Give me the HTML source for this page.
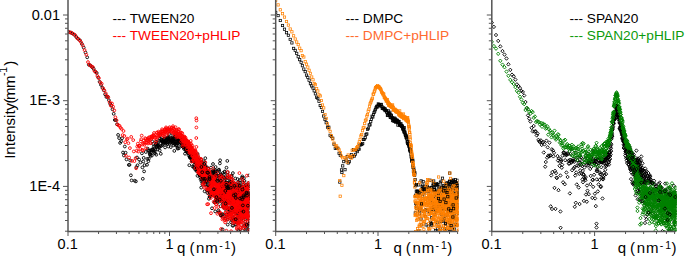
<!DOCTYPE html>
<html><head><meta charset="utf-8"><style>
html,body{margin:0;padding:0;background:#fff;width:685px;height:257px;overflow:hidden}
svg{display:block}
text{font-family:"Liberation Sans",sans-serif}
</style></head><body>
<svg width="685" height="257" viewBox="0 0 685 257">
<defs>
<marker id="cblk" markerUnits="userSpaceOnUse" markerWidth="6" markerHeight="6" refX="3" refY="3" overflow="visible"><circle cx="3" cy="3" r="1.4" fill="none" stroke="#000" stroke-width="0.9"/></marker>
<marker id="cred" markerUnits="userSpaceOnUse" markerWidth="6" markerHeight="6" refX="3" refY="3" overflow="visible"><circle cx="3" cy="3" r="1.4" fill="none" stroke="#f00" stroke-width="0.9"/></marker>
<marker id="corg" markerUnits="userSpaceOnUse" markerWidth="6" markerHeight="6" refX="3" refY="3" overflow="visible"><circle cx="3" cy="3" r="1.4" fill="none" stroke="#ff8000" stroke-width="0.9"/></marker>
<marker id="cgrn" markerUnits="userSpaceOnUse" markerWidth="6" markerHeight="6" refX="3" refY="3" overflow="visible"><circle cx="3" cy="3" r="1.4" fill="none" stroke="#008000" stroke-width="0.9"/></marker>
<marker id="sblk" markerUnits="userSpaceOnUse" markerWidth="6" markerHeight="6" refX="3" refY="3" overflow="visible"><rect x="1.85" y="1.85" width="2.3" height="2.3" fill="none" stroke="#000" stroke-width="0.75"/></marker>
<marker id="sred" markerUnits="userSpaceOnUse" markerWidth="6" markerHeight="6" refX="3" refY="3" overflow="visible"><rect x="1.85" y="1.85" width="2.3" height="2.3" fill="none" stroke="#f00" stroke-width="0.75"/></marker>
<marker id="sorg" markerUnits="userSpaceOnUse" markerWidth="6" markerHeight="6" refX="3" refY="3" overflow="visible"><rect x="1.85" y="1.85" width="2.3" height="2.3" fill="none" stroke="#ff8000" stroke-width="0.75"/></marker>
<marker id="sgrn" markerUnits="userSpaceOnUse" markerWidth="6" markerHeight="6" refX="3" refY="3" overflow="visible"><rect x="1.85" y="1.85" width="2.3" height="2.3" fill="none" stroke="#008000" stroke-width="0.75"/></marker>
<marker id="dblk" markerUnits="userSpaceOnUse" markerWidth="6" markerHeight="6" refX="3" refY="3" overflow="visible"><path d="M3 1.22L4.65 3L3 4.78L1.35 3Z" fill="none" stroke="#000" stroke-width="0.9"/></marker>
<marker id="dred" markerUnits="userSpaceOnUse" markerWidth="6" markerHeight="6" refX="3" refY="3" overflow="visible"><path d="M3 1.22L4.65 3L3 4.78L1.35 3Z" fill="none" stroke="#f00" stroke-width="0.9"/></marker>
<marker id="dorg" markerUnits="userSpaceOnUse" markerWidth="6" markerHeight="6" refX="3" refY="3" overflow="visible"><path d="M3 1.22L4.65 3L3 4.78L1.35 3Z" fill="none" stroke="#ff8000" stroke-width="0.9"/></marker>
<marker id="dgrn" markerUnits="userSpaceOnUse" markerWidth="6" markerHeight="6" refX="3" refY="3" overflow="visible"><path d="M3 1.22L4.65 3L3 4.78L1.35 3Z" fill="none" stroke="#008000" stroke-width="0.9"/></marker>
<clipPath id="cp0"><rect x="68.0" y="0" width="181.3" height="231.5"/></clipPath>
<clipPath id="cp1"><rect x="275.7" y="0" width="182.8" height="231.5"/></clipPath>
<clipPath id="cp2"><rect x="491.8" y="0" width="184.7" height="231.5"/></clipPath>
</defs>
<rect width="685" height="257" fill="#fff"/>
<polyline clip-path="url(#cp0)" fill="none" stroke="none" marker-start="url(#cblk)" marker-mid="url(#cblk)" marker-end="url(#cblk)" points="68.0,31.6 70.2,32.5 72.2,33.3 74.3,34.7 76.3,37.0 78.2,38.8 80.1,40.5 81.9,43.9 83.7,47.6 85.5,52.5 87.2,57.3 88.8,64.7 90.5,65.5 92.1,67.1 93.6,68.7 95.2,71.5 96.7,73.0 98.2,77.5 99.6,81.8 101.0,84.9 102.4,87.8 103.8,90.3 105.1,94.3 106.4,97.0 107.7,96.7 108.9,100.2 110.2,103.8 111.4,105.5 112.5,109.3 113.7,113.8 114.8,120.0 115.9,120.1 117.0,124.3 118.1,134.9 119.1,138.1 120.1,142.9 121.1,141.3 122.1,138.2 123.0,152.5 123.9,155.5 124.8,146.5 125.6,152.7 126.5,159.4 128.8,164.9 129.5,164.9 130.2,160.5 130.9,175.3 131.6,180.4 134.7,180.7 135.9,181.4 136.4,167.2 137.0,157.5 137.5,165.3 139.1,159.5 140.5,162.4 141.9,153.3 142.4,167.4 142.8,178.8 143.3,161.5 143.7,157.9 144.1,171.4 144.6,165.2 145.8,152.0 147.0,164.8 147.3,158.9 147.7,148.6 148.1,150.1 148.4,161.2 148.8,158.7 149.2,150.9 149.5,153.0 149.9,154.6 150.2,154.2 150.6,155.9 150.9,152.5 151.2,150.6 151.6,149.7 151.9,155.6 152.2,141.5 152.5,149.4 152.9,149.9 153.2,144.0 153.5,150.7 153.8,146.5 154.1,152.7 154.4,148.0 154.7,151.2 155.1,153.4 155.4,149.4 155.7,144.2 156.0,141.6 156.3,154.7 156.6,146.3 156.9,144.0 157.1,146.9 157.4,145.4 157.7,149.4 158.0,145.7 158.3,145.4 158.6,142.6 158.9,146.8 159.1,141.0 159.4,147.2 159.7,150.4 160.0,138.7 160.2,135.3 160.5,146.2 160.8,153.8 161.1,140.1 161.3,139.2 161.6,145.7 161.8,140.4 162.1,141.4 162.4,141.9 162.6,145.0 162.9,141.5 163.1,143.8 163.4,142.1 163.6,139.7 163.9,141.4 164.1,139.2 164.4,142.3 164.6,138.5 164.9,138.5 165.1,147.4 165.4,141.7 165.6,141.6 165.9,143.6 166.1,140.2 166.3,140.7 166.6,142.9 166.8,142.3 167.0,137.5 167.3,144.1 167.5,139.2 167.7,137.6 168.0,138.0 168.2,139.5 168.4,146.5 168.6,136.9 168.9,141.0 169.1,133.9 169.3,140.3 169.5,143.4 169.7,139.4 170.0,138.1 170.2,140.8 170.4,142.5 170.6,142.4 170.8,147.1 171.0,140.9 171.3,138.5 171.5,139.9 171.7,140.1 171.9,140.8 172.1,140.3 172.3,141.1 172.5,135.5 172.7,143.4 172.9,138.9 173.1,137.1 173.3,142.9 173.5,145.3 173.7,142.5 173.9,141.3 174.1,138.0 174.3,150.9 174.5,144.0 174.7,137.5 174.9,138.6 175.1,141.3 175.3,136.4 175.5,141.7 175.7,139.8 175.9,145.5 176.1,144.6 176.3,133.1 176.4,141.4 176.6,136.5 176.8,145.2 177.0,142.0 177.2,143.4 177.4,138.3 177.6,147.9 177.7,148.6 177.9,138.4 178.1,142.9 178.3,139.6 178.5,141.6 178.6,137.9 178.8,148.3 179.0,138.9 179.2,140.9 179.4,143.6 179.5,140.0 179.7,141.2 179.9,140.3 180.1,141.7 180.2,138.7 180.4,141.1 180.6,142.0 180.7,141.8 180.9,143.2 181.1,142.3 181.3,146.0 181.4,142.6 181.6,143.3 181.8,141.9 181.9,142.5 182.1,140.4 182.3,146.2 182.4,141.2 182.6,142.5 182.7,146.2 182.9,146.5 183.1,144.1 183.2,139.4 183.4,147.1 183.6,146.7 183.7,141.7 183.9,148.8 184.0,144.2 184.2,143.1 184.4,147.0 184.5,146.3 184.7,147.7 184.8,142.3 185.0,153.7 185.1,145.7 185.3,143.0 185.4,150.0 185.6,146.9 185.7,149.3 185.9,147.3 186.0,148.3 186.2,149.5 186.4,146.6 186.5,151.3 186.6,147.7 186.8,146.7 186.9,149.7 187.1,151.2 187.2,149.2 187.4,147.5 187.5,152.6 187.7,145.1 187.8,147.6 188.0,151.2 188.1,147.0 188.3,151.6 188.4,151.5 188.6,155.3 188.7,149.2 188.8,150.3 189.0,153.9 189.1,144.8 189.3,165.2 189.4,150.9 189.5,151.0 189.7,157.1 189.8,153.8 190.0,148.1 190.1,156.9 190.2,158.1 190.4,153.2 190.5,154.0 190.6,157.2 190.8,152.3 190.9,157.5 191.1,156.7 191.2,153.7 191.3,151.3 191.5,155.7 191.6,153.5 191.7,161.3 191.9,157.7 192.0,160.8 192.1,158.1 192.3,158.9 192.4,155.0 192.5,161.1 192.6,166.5 192.8,157.4 192.9,156.5 193.0,158.3 193.2,157.3 193.3,156.7 193.4,160.2 193.5,158.6 193.7,166.8 193.8,160.1 193.9,161.9 194.1,165.1 194.2,159.6 194.3,167.9 194.4,158.6 194.6,158.1 194.7,160.1 194.8,161.2 194.9,156.3 195.1,161.9 195.2,155.5 195.3,169.6 195.4,162.3 195.5,160.1 195.7,159.1 195.8,161.4 195.9,162.3 196.0,158.8 196.2,159.5 196.3,162.9 196.4,161.6 196.5,169.7 196.6,171.1 196.8,164.5 196.9,167.5 197.0,158.4 197.1,168.9 197.2,165.0 197.3,168.4 197.5,175.8 197.6,154.1 197.7,167.5 197.8,160.3 197.9,170.1 198.0,159.4 198.2,163.8 198.3,168.0 198.4,171.0 198.5,167.4 198.6,162.7 198.7,164.2 198.8,173.8 199.0,167.5 199.1,158.2 199.2,174.2 199.3,171.2 199.4,174.8 199.5,166.4 199.6,174.9 199.7,162.4 199.8,173.3 200.0,166.0 200.1,174.5 200.2,177.3 200.3,164.8 200.4,169.1 200.5,169.8 200.6,179.3 200.7,175.5 200.8,162.3 200.9,173.7 201.0,176.2 201.2,187.6 201.3,159.8 201.5,181.5 201.6,162.0 201.7,163.1 201.8,175.1 201.9,179.4 202.0,166.7 202.1,175.7 202.3,184.2 202.4,171.4 202.5,180.0 202.6,165.7 202.7,170.5 202.8,171.2 202.9,181.7 203.0,177.0 203.2,167.2 203.3,178.2 203.5,171.7 203.6,170.8 203.7,171.4 203.8,161.3 203.9,174.5 204.0,175.0 204.1,167.2 204.2,179.7 204.4,169.6 204.5,170.2 204.6,191.3 204.7,162.6 204.9,182.3 205.0,177.4 205.1,184.7 205.2,167.1 205.4,181.3 205.5,166.0 205.6,172.2 205.6,166.2 205.7,184.4 205.8,182.8 205.9,169.8 206.1,176.2 206.2,174.2 206.3,175.9 206.4,173.9 206.6,178.5 206.7,173.1 206.9,171.4 207.0,178.7 207.1,180.1 207.2,190.1 207.5,178.1 207.5,175.1 207.6,171.6 207.7,182.3 207.9,168.5 208.0,168.4 208.2,172.0 208.3,187.8 208.4,190.7 208.5,185.9 208.6,181.0 208.6,174.3 208.7,178.3 208.8,186.5 208.9,198.8 209.0,187.0 209.1,175.9 209.3,174.5 209.4,172.2 209.5,180.5 209.6,196.9 209.8,192.3 209.9,196.5 210.0,179.8 210.1,195.2 210.2,186.3 210.3,175.9 210.4,179.6 210.5,177.6 210.7,181.1 210.8,184.2 210.9,172.6 210.9,179.8 211.0,167.6 211.1,182.7 211.2,186.6 211.3,181.9 211.4,183.3 211.5,186.6 211.5,175.0 211.6,178.5 211.7,186.0 211.8,191.4 211.9,184.9 212.0,208.3 212.1,180.1 212.1,191.8 212.2,194.8 212.3,180.0 212.4,174.4 212.5,171.5 212.6,183.1 212.6,193.6 212.7,184.5 212.9,178.5 213.0,187.9 213.0,164.0 213.1,184.4 213.3,170.5 213.5,170.5 213.6,172.2 213.7,195.1 213.8,175.0 213.9,190.2 214.1,171.7 214.2,177.6 214.3,202.4 214.3,172.0 214.4,176.0 214.5,181.7 214.6,192.7 214.7,192.1 214.8,174.3 214.9,194.7 215.0,190.3 215.1,170.0 215.1,202.2 215.2,211.4 215.3,177.2 215.4,184.5 215.4,200.9 215.7,173.0 215.8,179.3 215.8,179.3 215.9,191.8 216.0,187.7 216.1,173.7 216.1,191.6 216.3,199.6 216.4,185.1 216.5,197.3 216.6,176.6 216.7,194.5 216.7,184.3 216.8,199.5 216.9,191.2 217.0,175.8 217.0,187.0 217.2,175.6 217.3,178.9 217.5,198.2 217.6,202.9 217.7,189.1 217.8,185.6 217.9,189.2 218.0,198.0 218.2,198.7 218.2,181.7 218.3,187.5 218.4,185.1 218.5,189.1 218.6,170.1 218.7,212.3 218.8,196.2 218.9,198.9 219.0,187.5 219.0,169.6 219.1,171.1 219.2,176.1 219.2,186.2 219.5,184.5 219.5,200.8 219.6,185.1 219.7,181.4 219.8,179.6 219.9,163.4 219.9,178.4 220.0,189.3 220.1,160.3 220.2,184.9 220.2,185.2 220.3,175.4 220.4,174.9 220.5,183.4 220.6,206.2 220.7,174.2 220.8,198.6 220.9,215.5 221.0,194.1 221.1,193.1 221.2,188.6 221.3,186.1 221.3,176.2 221.4,184.3 221.5,176.2 221.6,189.2 221.7,176.4 221.7,191.0 221.8,201.9 221.9,187.1 221.9,199.8 222.0,199.7 222.1,195.8 222.1,214.2 222.2,200.7 222.3,186.8 222.3,183.4 222.5,196.5 222.5,186.8 222.7,216.6 222.7,187.9 222.8,186.9 222.9,214.5 222.9,173.0 223.1,203.9 223.1,181.9 223.2,185.8 223.3,187.0 223.3,199.9 223.4,192.3 223.5,196.2 223.5,199.1 223.6,190.8 223.6,206.8 223.7,183.9 223.8,177.6 223.8,174.6 224.0,185.7 224.0,205.9 224.1,193.3 224.2,181.2 224.3,186.1 224.4,187.3 224.4,185.9 224.5,178.1 224.5,186.7 224.6,206.2 224.7,171.5 224.7,189.0 224.8,172.1 224.9,194.0 224.9,184.6 225.0,192.9 225.1,218.7 225.2,193.1 225.2,209.0 225.4,199.0 225.5,187.9 225.5,178.5 225.7,196.1 225.7,187.1 225.8,205.0 225.8,184.1 225.9,201.7 226.0,183.5 226.0,200.1 226.1,182.2 226.2,214.8 226.2,196.0 226.3,214.0 226.4,188.0 226.5,205.1 226.5,167.7 226.6,182.8 226.6,208.3 226.7,199.6 226.8,207.5 226.8,189.8 226.9,201.3 227.0,180.3 227.1,177.5 227.1,187.8 227.3,160.9 227.4,174.9 227.4,188.2 227.5,197.4 227.5,187.8 227.6,185.2 227.7,172.3 227.7,224.6 227.8,183.3 227.8,219.4 227.9,217.6 227.9,197.6 228.1,195.4 228.1,183.0 228.2,197.5 228.2,193.5 228.3,201.9 228.4,208.5 228.5,190.2 228.5,210.1 228.6,186.6 228.6,185.7 228.7,188.2 228.8,185.0 228.8,209.3 228.9,208.5 228.9,214.0 229.0,193.8 229.0,198.4 229.1,188.9 229.2,183.7 229.2,201.2 229.3,198.4 229.4,178.6 229.5,192.7 229.6,188.7 229.6,189.6 229.7,184.7 229.7,209.7 229.8,203.6 229.8,213.5 229.9,196.7 229.9,183.0 230.0,191.3 230.1,184.0 230.1,201.9 230.2,214.0 230.2,199.9 230.3,189.3 230.3,191.4 230.4,198.0 230.4,181.8 230.5,197.2 230.6,198.0 230.6,190.0 230.7,191.2 230.7,197.6 230.8,187.6 230.9,207.6 230.9,198.6 231.0,222.2 231.1,186.3 231.1,179.2 231.2,210.4 231.3,188.7 231.3,182.1 231.4,194.9 231.5,192.3 231.5,175.8 231.6,193.3 231.7,176.4 231.7,193.4 231.8,220.1 231.9,189.9 232.0,187.6 232.0,182.2 232.1,212.5 232.1,195.2 232.2,185.2 232.3,193.8 232.3,196.8 232.4,218.8 232.5,225.6 232.5,190.1 232.6,185.7 232.7,217.7 232.7,195.3 232.8,190.2 232.8,195.6 232.9,173.1 233.0,211.3 233.0,202.4 233.1,198.3 233.1,187.3 233.2,205.7 233.2,225.6 233.3,185.4 233.3,196.5 233.4,202.1 233.5,196.6 233.5,195.2 233.6,188.6 233.6,196.5 233.7,191.1 233.8,196.1 233.9,207.3 233.9,191.5 234.0,193.9 234.0,214.4 234.1,194.9 234.1,194.6 234.2,211.1 234.2,201.2 234.3,198.1 234.3,200.3 234.4,204.5 234.5,219.2 234.5,206.6 234.6,183.3 234.6,201.7 234.7,189.2 234.7,195.4 234.8,199.3 234.8,186.7 234.9,219.8 234.9,196.9 235.0,210.7 235.0,208.1 235.1,220.2 235.2,184.4 235.2,198.1 235.3,178.5 235.3,193.7 235.4,209.6 235.4,213.1 235.5,219.5 235.6,199.2 235.7,224.7 235.8,194.6 235.9,194.6 236.0,207.9 236.0,210.7 236.1,207.1 236.1,192.1 236.2,198.7 236.2,224.2 236.3,221.8 236.3,186.6 236.4,189.3 236.4,189.1 236.5,202.2 236.5,198.9 236.6,202.6 236.6,190.9 236.7,205.4 236.7,222.3 236.8,186.2 236.8,196.5 236.9,202.4 236.9,197.1 237.0,196.5 237.1,220.4 237.1,212.9 237.3,204.5 237.3,193.2 237.3,195.3 237.4,194.0 237.5,201.9 237.5,199.4 237.6,179.1 237.6,211.1 237.7,188.9 237.7,188.3 237.8,209.0 237.9,212.9 237.9,217.9 238.0,182.4 238.0,197.3 238.1,184.4 238.1,198.0 238.1,214.4 238.2,186.3 238.2,229.9 238.3,195.8 238.3,187.9 238.4,197.5 238.4,212.3 238.5,186.2 238.5,198.6 238.6,186.3 238.7,201.2 238.7,194.8 238.7,216.6 238.8,187.1 238.8,195.1 238.9,230.9 238.9,197.6 239.0,222.3 239.0,201.9 239.1,192.4 239.1,196.5 239.2,199.9 239.2,195.0 239.2,191.3 239.3,191.7 239.3,185.4 239.4,200.5 239.4,205.5 239.5,182.5 239.6,212.8 239.6,198.6 239.7,200.3 239.7,213.0 239.8,207.9 239.8,211.5 239.9,215.4 240.0,180.1 240.1,192.1 240.1,194.7 240.2,212.9 240.3,199.6 240.3,232.2 240.5,194.7 240.5,192.0 240.5,209.3 240.6,214.1 240.7,188.5 240.7,199.5 240.8,191.5 240.8,197.0 240.8,195.7 240.9,188.9 240.9,210.6 241.0,190.3 241.1,214.9 241.1,216.4 241.2,210.9 241.2,205.1 241.3,188.3 241.3,192.5 241.4,190.3 241.4,215.2 241.5,204.2 241.5,219.0 241.5,216.5 241.6,197.2 241.6,191.9 241.7,190.4 241.8,216.5 241.8,209.8 241.8,196.3 241.9,196.3 242.0,196.4 242.0,177.7 242.1,195.9 242.1,204.5 242.2,203.1 242.2,214.7 242.3,176.4 242.4,230.5 242.5,188.5 242.6,212.1 242.6,191.6 242.6,212.5 242.7,186.7 242.7,182.3 242.8,187.6 242.8,184.7 242.9,199.4 243.0,190.3 243.1,199.2 243.1,207.8 243.2,197.4 243.3,201.1 243.3,216.2 243.4,194.6 243.6,197.6 243.6,213.1 243.7,225.6 243.7,187.6 243.8,195.9 243.9,178.1 243.9,198.9 244.0,205.2 244.0,209.6 244.1,189.0 244.2,217.3 244.2,192.1 244.2,188.9 244.3,191.1 244.3,192.3 244.4,203.0 244.4,215.0 244.5,181.0 244.5,195.1 244.5,216.5 244.6,203.7 244.6,209.3 244.7,186.5 244.7,217.5 244.7,186.0 244.8,203.6 244.8,225.2 244.9,216.4 245.0,194.7 245.0,195.8 245.1,221.7 245.1,200.2 245.1,199.0 245.2,187.5 245.2,203.0 245.2,212.1 245.3,193.1 245.3,195.6 245.4,229.4 245.4,203.5 245.4,197.6 245.5,190.0 245.5,194.7 245.6,198.0 245.6,194.8 245.7,233.5 245.7,191.9 245.8,197.1 245.8,216.0 245.8,198.2 245.9,192.9 245.9,199.2 246.0,208.7 246.0,184.9 246.0,198.1 246.1,199.4 246.1,196.7 246.1,214.1 246.2,195.3 246.2,197.1 246.3,201.1 246.3,214.0 246.3,198.4 246.4,228.7 246.4,192.3 246.5,224.4 246.6,207.3 246.6,217.2 246.7,196.9 246.8,198.6 246.8,208.9 246.9,202.3 246.9,218.4 247.0,207.7 247.0,212.5 247.1,205.8 247.1,200.3 247.1,194.3 247.2,217.5 247.2,203.2 247.3,197.5 247.3,200.9 247.4,191.3 247.4,202.3 247.4,215.0 247.5,202.4 247.5,216.8 247.6,206.6 247.6,226.3 247.6,199.0 247.7,186.0 247.7,208.9 247.7,199.2 247.8,192.0 247.8,213.0 247.9,209.2 247.9,197.8 248.0,204.5 248.0,205.6 248.0,234.3 248.1,194.6 248.1,200.7 248.2,207.7 248.2,185.3 248.2,186.4 248.3,211.7 248.4,193.2 248.4,194.0 248.4,183.0 248.5,192.8 248.5,215.7 248.6,188.4 248.6,212.2 248.6,206.9 248.7,196.7 248.7,224.9 248.8,198.4 248.9,186.0 248.9,229.6 248.9,188.7 249.0,196.7 249.0,217.8 249.1,193.4 249.1,200.7 249.1,198.7 249.3,184.5 249.3,218.4 249.3,175.3 249.4,201.3 249.4,191.0 249.5,204.2 249.5,194.4 249.5,196.5 249.6,195.8 249.6,204.6 249.6,199.6 249.7,230.3 249.8,214.3 249.8,186.4 249.9,194.2 249.9,221.0 249.9,198.0 250.0,195.0 250.0,203.6 250.1,190.7 250.1,210.7 250.1,198.3 250.2,196.9 250.3,195.7 250.3,194.8"/>
<polyline clip-path="url(#cp0)" fill="none" stroke="none" marker-start="url(#cred)" marker-mid="url(#cred)" marker-end="url(#cred)" points="69.1,32.0 71.2,32.6 73.3,34.0 75.3,35.3 77.2,38.2 79.2,39.9 81.0,42.1 82.8,45.5 84.6,50.1 86.3,54.7 88.0,62.1 89.7,65.0 91.3,66.3 92.9,67.1 94.4,70.8 95.9,72.3 97.4,76.0 98.9,78.2 100.3,82.4 101.7,83.7 103.1,88.3 104.4,90.4 105.8,93.4 107.1,96.3 108.3,97.3 109.6,102.1 110.8,105.6 112.0,103.5 113.1,106.7 114.3,110.4 115.4,117.3 116.5,120.3 117.5,124.4 118.6,125.4 119.6,125.9 120.6,127.9 121.6,128.9 122.6,135.1 123.5,131.0 124.4,136.0 125.2,142.2 126.0,155.8 126.9,139.3 127.6,138.7 128.4,143.2 129.1,157.5 129.9,148.1 131.2,136.9 131.9,160.9 133.2,140.1 133.8,151.4 134.4,161.1 135.6,158.1 136.1,168.3 136.7,150.7 137.2,146.6 137.8,143.7 138.3,151.5 138.8,146.0 139.3,145.8 139.8,145.7 140.3,149.0 140.8,141.3 141.2,139.3 141.7,135.6 142.2,149.9 142.6,144.5 143.1,150.4 143.5,143.5 143.9,140.6 144.3,144.8 144.8,142.3 145.2,138.2 145.6,139.2 146.0,148.3 146.4,142.7 146.8,142.6 147.1,140.1 147.5,138.7 147.9,143.5 148.3,140.0 148.6,137.9 149.0,139.5 149.3,137.1 149.7,140.0 150.0,142.8 150.7,143.2 151.1,136.9 151.4,138.9 151.7,136.1 152.0,137.5 152.4,138.0 152.7,136.6 153.3,135.6 153.7,135.0 154.0,133.0 154.3,136.0 154.6,137.6 155.2,137.8 155.5,142.5 156.4,140.3 156.7,132.7 157.0,137.5 157.3,132.5 157.6,135.5 158.2,136.5 158.4,133.6 158.7,131.6 159.3,135.4 159.6,133.4 160.4,132.5 160.6,134.6 160.9,134.7 161.5,131.3 162.0,129.3 162.2,130.9 162.5,131.9 162.8,133.7 163.0,135.2 163.5,133.1 164.0,136.8 164.3,131.4 164.5,132.6 164.8,129.2 165.0,129.4 165.3,131.6 165.5,130.2 165.7,131.8 166.0,127.4 166.4,128.7 166.7,134.9 166.9,129.9 167.2,133.2 167.6,131.5 167.8,128.5 168.5,129.7 168.7,131.0 169.2,131.9 169.4,130.1 169.6,127.2 169.9,128.4 170.1,129.8 170.9,129.6 171.4,131.7 171.8,127.8 172.2,131.0 172.6,132.9 173.0,126.2 173.2,130.9 173.4,127.9 173.8,132.9 174.0,128.6 174.2,129.2 174.8,135.2 175.0,133.4 175.4,133.1 175.6,127.3 176.0,134.2 176.2,131.7 176.3,130.6 176.5,133.7 176.7,137.3 177.1,130.1 177.3,136.3 177.8,131.6 178.4,136.5 178.6,134.0 178.7,129.6 178.9,129.1 179.3,136.9 179.4,134.0 179.6,134.0 179.8,133.4 180.0,135.8 180.1,135.2 180.5,132.5 180.7,138.0 181.0,132.5 181.2,141.6 181.3,137.8 181.5,135.0 181.8,138.4 182.0,138.3 182.2,135.7 182.3,133.2 182.5,140.6 182.7,136.4 182.8,136.9 183.0,146.0 183.2,144.3 183.3,141.3 183.6,141.0 184.0,139.9 184.1,138.1 184.3,137.0 184.4,136.5 184.6,142.0 184.9,141.5 185.1,143.6 185.2,139.4 185.4,138.7 185.5,137.6 185.7,141.3 185.8,144.5 186.0,142.2 186.1,144.6 186.3,140.0 186.4,142.0 186.6,141.5 186.7,140.5 186.9,149.4 187.0,146.6 187.2,142.3 187.3,142.5 187.5,144.5 187.6,141.1 187.8,146.4 187.9,141.8 188.0,144.4 188.2,142.8 188.3,144.5 188.5,142.3 188.6,141.8 188.8,143.7 188.9,144.6 189.0,145.9 189.2,147.2 189.3,152.3 189.5,150.1 189.6,146.7 189.7,150.2 189.9,145.8 190.0,153.1 190.2,150.2 190.3,144.4 190.4,151.4 190.6,151.9 190.7,140.9 190.8,147.1 191.0,148.1 191.1,143.8 191.3,146.7 191.4,147.2 191.5,152.4 191.7,151.9 191.8,161.5 191.9,149.8 192.1,156.0 192.2,151.8 192.3,152.8 192.4,148.2 192.6,145.9 192.7,149.8 192.8,155.9 193.0,159.7 193.1,155.6 193.2,155.4 193.4,150.6 193.5,160.6 193.6,159.9 193.7,152.2 193.9,154.0 194.0,151.0 194.1,161.5 194.2,156.7 194.4,154.7 194.5,157.2 194.6,157.5 194.7,154.2 194.9,151.5 195.0,151.5 195.1,150.1 195.2,158.8 195.4,168.0 195.5,150.9 195.6,157.9 195.7,159.6 195.9,154.2 196.0,159.0 196.1,154.2 196.2,164.7 196.3,156.5 196.5,159.4 196.6,162.8 196.7,157.8 196.8,153.0 196.9,157.9 197.0,164.2 197.2,160.0 197.3,161.8 197.4,156.8 197.5,161.8 197.6,165.3 197.7,161.7 197.9,172.4 198.0,161.2 198.1,158.2 198.2,156.2 198.3,169.2 198.4,162.7 198.6,168.9 198.7,166.0 198.8,172.9 198.9,171.1 199.0,162.5 199.1,165.8 199.2,170.8 199.3,159.8 199.5,173.5 199.6,172.3 199.7,171.2 199.8,164.8 199.9,167.6 200.0,161.6 200.1,166.6 200.2,164.0 200.3,167.1 200.5,164.8 200.6,168.8 200.7,174.6 200.8,162.0 200.9,173.5 201.0,159.4 201.1,158.9 201.2,167.7 201.3,168.4 201.4,171.5 201.5,161.7 201.6,168.7 201.7,170.0 201.8,177.8 202.0,169.1 202.1,173.3 202.2,165.6 202.3,169.3 202.4,168.3 202.5,175.4 202.6,166.2 202.7,167.1 202.8,175.1 202.9,184.0 203.0,174.2 203.1,173.8 203.2,170.2 203.3,179.9 203.4,176.1 203.5,185.2 203.6,175.0 203.7,168.2 203.8,170.2 203.9,168.3 204.0,167.2 204.1,183.1 204.3,167.7 204.4,187.8 204.5,176.0 204.6,169.6 204.7,177.5 204.8,174.3 204.9,171.0 205.0,165.3 205.2,177.7 205.3,162.3 205.4,180.1 205.5,180.7 205.7,176.9 205.8,174.7 205.9,171.9 206.0,174.5 206.1,187.8 206.2,168.9 206.3,178.8 206.5,173.3 206.7,169.7 206.8,172.8 206.9,180.6 207.0,172.9 207.1,204.3 207.2,175.0 207.3,179.4 207.4,177.1 207.5,176.3 207.6,190.1 207.7,176.1 207.8,190.7 207.9,189.2 208.0,173.1 208.1,188.6 208.2,204.1 208.3,177.5 208.4,174.3 208.5,168.5 208.6,172.4 208.7,176.8 208.8,174.3 208.9,173.0 209.0,176.4 209.1,179.5 209.1,194.2 209.2,170.5 209.3,177.7 209.4,175.3 209.5,171.9 209.6,173.6 209.7,175.9 209.8,188.5 209.9,180.7 209.9,178.6 210.0,188.0 210.1,185.0 210.2,181.0 210.6,187.4 210.7,175.1 210.8,198.0 210.9,184.3 211.0,213.2 211.1,179.3 211.2,192.1 211.2,181.0 211.3,186.5 211.4,192.4 211.6,183.7 211.7,186.1 211.8,185.8 211.8,190.7 211.9,195.1 212.0,193.3 212.1,187.7 212.2,182.7 212.3,177.3 212.3,180.1 212.5,192.5 212.6,183.0 212.7,176.7 212.8,192.3 212.8,180.1 212.9,180.4 213.0,184.5 213.1,191.1 213.2,168.4 213.3,178.0 213.3,188.3 213.5,180.1 213.6,182.7 213.7,201.6 213.7,183.5 213.8,194.7 213.9,195.6 214.0,183.7 214.1,192.1 214.1,183.9 214.3,178.7 214.6,178.9 214.7,208.0 214.8,196.3 214.9,187.1 214.9,182.7 215.0,176.0 215.1,191.7 215.2,191.8 215.2,177.1 215.3,201.8 215.4,197.6 215.5,180.9 215.6,184.4 215.6,185.5 215.7,191.0 215.8,188.0 216.0,193.2 216.1,204.2 216.2,204.2 216.3,188.0 216.3,193.8 216.4,198.5 216.5,199.0 216.6,188.7 216.6,184.8 216.7,190.7 216.8,183.3 216.9,185.6 216.9,172.6 217.0,191.6 217.2,185.8 217.3,194.7 217.4,213.8 217.5,193.6 217.6,192.9 217.8,185.3 217.9,185.1 218.0,187.0 218.0,186.0 218.2,185.7 218.3,191.9 218.3,207.0 218.5,188.8 218.6,199.6 218.6,199.2 218.8,200.0 218.8,192.5 219.0,212.2 219.1,188.4 219.1,195.0 219.2,176.8 219.3,189.6 219.3,184.6 219.5,188.7 219.6,191.9 219.7,200.0 219.8,196.7 219.8,188.2 219.9,181.1 220.1,212.5 220.1,189.5 220.2,201.4 220.3,178.6 220.5,213.5 220.5,183.8 220.6,186.0 220.7,215.4 220.7,175.5 221.0,197.0 221.1,229.0 221.2,183.3 221.2,191.5 221.3,192.3 221.4,187.8 221.4,181.3 221.5,215.8 221.6,197.7 221.6,177.3 221.7,187.9 221.8,200.3 221.8,200.3 221.9,180.6 222.0,194.1 222.1,200.3 222.2,200.4 222.2,177.0 222.4,198.1 222.4,219.4 222.5,233.5 222.6,183.1 222.7,207.0 222.8,193.7 222.9,185.2 223.0,218.2 223.0,191.2 223.1,181.7 223.2,191.2 223.2,184.1 223.4,191.6 223.5,204.0 223.5,189.5 223.6,205.7 223.7,192.4 223.8,189.6 223.9,198.8 223.9,208.2 224.0,196.1 224.1,198.1 224.1,195.9 224.3,204.8 224.3,189.2 224.4,191.5 224.4,197.0 224.5,189.7 224.6,198.3 224.6,203.8 224.7,196.3 224.8,190.5 224.9,220.5 225.0,185.5 225.1,188.3 225.1,222.4 225.2,217.5 225.3,212.7 225.4,196.9 225.5,207.1 225.6,178.4 225.6,189.2 225.7,207.8 225.8,212.7 225.9,201.1 225.9,219.2 226.0,193.4 226.1,183.9 226.1,196.7 226.2,193.4 226.2,215.3 226.4,189.4 226.4,230.7 226.5,204.0 226.6,206.9 226.7,208.5 226.7,200.0 226.9,197.0 226.9,183.5 227.0,195.5 227.0,195.8 227.1,196.0 227.1,199.7 227.2,191.6 227.3,216.4 227.3,219.8 227.4,175.9 227.4,198.1 227.5,190.9 227.6,172.0 227.6,203.8 227.7,191.9 227.7,194.4 227.8,191.6 227.9,213.5 227.9,215.6 228.0,202.1 228.0,208.0 228.1,197.2 228.2,191.0 228.3,198.9 228.3,191.3 228.4,203.7 228.4,210.2 228.5,202.9 228.7,177.6 228.7,198.8 228.8,193.0 228.8,194.2 228.9,185.2 229.0,199.5 229.0,196.2 229.1,196.3 229.2,193.0 229.2,175.5 229.3,214.3 229.4,196.0 229.4,189.5 229.5,203.4 229.5,192.5 229.6,177.4 229.8,201.0 229.9,218.6 229.9,216.3 230.0,191.7 230.1,195.2 230.1,215.0 230.3,207.3 230.3,193.1 230.4,214.3 230.5,195.5 230.6,208.2 230.6,203.6 230.7,214.0 230.8,218.4 230.8,207.2 230.9,176.5 230.9,182.9 231.0,202.1 231.0,199.2 231.1,231.2 231.1,199.6 231.2,198.4 231.2,213.7 231.3,215.5 231.4,197.7 231.5,188.8 231.5,190.7 231.6,218.1 231.6,186.1 231.7,210.1 231.8,211.5 231.9,208.6 231.9,179.0 232.0,190.4 232.1,194.4 232.1,213.8 232.2,189.2 232.2,193.5 232.3,196.9 232.3,219.8 232.4,186.2 232.5,179.4 232.6,205.6 232.6,196.2 232.7,185.0 232.8,203.3 232.9,222.8 233.0,200.8 233.1,195.2 233.2,200.8 233.2,216.5 233.3,181.8 233.3,210.8 233.4,195.8 233.4,202.2 233.5,206.0 233.5,213.8 233.6,204.8 233.6,197.3 233.7,205.9 233.7,201.5 233.8,199.3 233.8,204.4 233.9,214.4 233.9,203.5 234.0,203.8 234.0,188.6 234.1,200.2 234.1,183.0 234.2,212.3 234.2,192.2 234.3,220.9 234.4,197.7 234.4,221.5 234.5,196.2 234.6,210.2 234.7,222.7 234.7,207.2 234.8,191.5 235.0,206.2 235.0,206.9 235.1,220.2 235.1,200.0 235.2,201.1 235.2,200.2 235.3,184.3 235.3,209.1 235.4,208.3 235.4,216.8 235.5,190.2 235.5,194.0 235.6,216.2 235.6,207.0 235.7,193.5 235.8,205.2 235.8,195.4 235.9,197.3 236.0,210.3 236.0,218.5 236.1,212.4 236.2,216.4 236.2,209.0 236.3,191.8 236.3,193.4 236.4,211.0 236.5,197.8 236.5,186.1 236.6,204.9 236.7,189.5 236.8,228.8 236.8,207.0 236.9,227.5 236.9,203.9 237.0,217.2 237.0,195.1 237.1,203.7 237.2,186.7 237.3,195.9 237.3,211.2 237.4,221.8 237.4,200.8 237.5,203.4 237.5,205.4 237.6,206.6 237.7,202.7 237.7,202.1 237.7,191.6 237.8,182.8 237.8,200.1 237.9,223.0 238.0,224.8 238.1,208.3 238.1,220.3 238.2,200.6 238.2,212.3 238.3,216.9 238.4,206.4 238.4,190.0 238.4,223.7 238.5,202.2 238.6,199.8 238.6,193.7 238.7,223.2 238.7,211.9 238.8,196.7 238.8,203.9 238.9,198.5 238.9,199.1 239.0,195.2 239.0,196.4 239.1,198.5 239.2,193.7 239.2,202.0 239.3,209.7 239.4,216.0 239.4,173.1 239.4,197.8 239.5,199.0 239.6,214.4 239.7,207.7 239.8,209.4 239.9,223.9 239.9,220.0 240.0,186.5 240.0,203.9 240.1,208.9 240.2,186.2 240.3,213.7 240.3,227.2 240.4,196.1 240.4,194.4 240.5,222.3 240.5,204.5 240.6,218.6 240.6,188.9 240.6,228.6 240.7,215.9 240.8,193.2 240.8,187.7 240.9,200.7 240.9,206.0 241.0,227.6 241.0,208.7 241.0,214.3 241.1,213.5 241.2,195.1 241.3,201.8 241.3,207.4 241.3,197.9 241.4,221.3 241.4,190.8 241.5,190.2 241.6,191.8 241.6,214.3 241.6,217.7 241.7,215.6 241.8,203.0 241.9,203.6 241.9,203.5 242.0,194.4 242.0,194.3 242.1,222.1 242.2,198.8 242.2,199.7 242.2,179.0 242.3,198.9 242.3,219.1 242.4,207.2 242.5,214.3 242.5,211.6 242.6,196.2 242.7,204.3 242.7,202.3 242.7,205.0 242.8,202.6 242.9,187.6 242.9,198.1 243.0,198.2 243.1,211.6 243.1,216.9 243.2,208.4 243.3,203.2 243.3,187.2 243.4,182.1 243.4,215.9 243.5,217.8 243.5,207.8 243.5,193.1 243.6,226.2 243.6,222.5 243.7,203.2 243.7,201.4 243.7,184.1 243.8,215.2 243.8,187.5 243.9,214.9 243.9,205.0 244.0,228.2 244.0,200.5 244.1,212.8 244.1,216.0 244.1,207.5 244.3,201.8 244.3,202.1 244.4,205.7 244.5,205.3 244.5,201.4 244.6,193.1 244.6,191.6 244.7,207.4 244.7,204.1 244.8,189.0 244.8,200.6 245.0,208.4 245.0,205.9 245.1,215.8 245.1,225.1 245.2,211.8 245.3,201.3 245.3,209.3 245.4,191.1 245.5,201.9 245.5,213.1 245.6,204.3 245.6,213.5 245.7,207.0 245.8,200.3 245.9,186.4 246.0,219.7 246.0,210.5 246.1,226.1 246.1,212.5 246.1,191.4 246.2,190.0 246.2,219.4 246.3,199.7 246.4,212.4 246.4,200.0 246.4,189.7 246.5,199.6 246.6,198.4 246.6,207.2 246.6,215.3 246.7,224.3 246.7,200.7 246.8,212.6 246.9,175.6 246.9,196.3 246.9,216.4 247.0,207.7 247.0,217.0 247.1,185.1 247.1,202.2 247.2,204.2 247.2,188.8 247.3,209.3 247.3,198.5 247.4,216.8 247.4,210.6 247.5,206.5 247.5,197.2 247.5,197.1 247.6,188.3 247.6,201.7 247.7,216.5 247.7,205.4 247.7,203.8 247.8,215.3 247.9,189.0 248.0,203.3 248.0,222.1 248.1,215.0 248.2,215.9 248.2,198.3 248.3,197.6 248.3,199.6 248.4,201.2 248.5,207.1 248.5,206.2 248.5,199.8 248.6,215.6 248.6,183.2 248.7,200.4 248.7,217.3 248.8,213.5 248.8,203.8 248.9,218.0 248.9,193.6 248.9,204.3 249.0,230.1 249.1,195.0 249.2,188.2 249.2,204.7 249.3,201.9 249.3,188.7 249.3,198.5 249.4,196.8 249.4,210.1 249.4,214.0 249.5,204.7 249.6,203.5 249.6,182.6 249.6,205.5 249.7,185.2 249.8,214.9 249.8,197.2 249.9,222.1 249.9,188.8 249.9,190.5 250.0,218.6 250.1,201.6 250.2,215.2 250.2,207.5 250.3,218.5 196.3,118.2 196.5,120.5 196.4,127.5 196.3,138.0 196.4,146.9"/>
<polyline clip-path="url(#cp0)" fill="none" stroke="none" marker-start="url(#cblk)" marker-mid="url(#cblk)" marker-end="url(#cblk)" points="201.4,167.0 202.2,172.2 203.4,179.0 204.3,163.9 204.8,178.8 205.3,158.2 206.5,181.2 207.3,172.5 207.4,192.9 208.1,172.9 209.2,178.6 209.5,177.0 209.7,179.2 213.9,189.3 215.5,171.3 215.6,167.0 216.4,197.2 217.1,201.1 217.3,180.7 218.4,210.5 219.7,199.6 220.8,180.8 221.1,215.2 222.6,229.4 225.3,190.9 225.6,203.6 226.3,184.8 227.2,187.8 227.2,187.2 228.0,188.2 230.8,187.7 231.9,207.9 233.8,195.4 234.4,185.9 235.5,194.4 235.7,219.2 235.9,197.9 239.7,185.9 240.0,198.5 241.9,197.6 242.3,199.3 242.4,189.5 242.9,205.4 243.4,211.6 243.8,195.4 243.8,197.1 246.5,192.7 246.7,224.8 246.8,193.4 247.0,195.6 247.9,205.7 249.2,223.4"/>
<polyline clip-path="url(#cp1)" fill="none" stroke="none" marker-start="url(#sblk)" marker-mid="url(#sblk)" marker-end="url(#sblk)" points="275.7,12.4 278.1,15.6 280.3,20.5 282.5,25.5 284.5,29.2 286.5,32.7 288.4,35.3 290.2,39.4 291.9,42.9 293.6,48.4 295.2,50.4 296.7,53.4 298.2,56.7 299.7,59.6 301.1,62.4 302.4,65.7 303.8,69.1 305.2,71.6 306.5,75.1 307.8,77.3 309.1,80.2 310.4,83.7 311.7,85.9 313.0,88.0 314.2,90.8 315.4,93.8 316.6,97.2 317.8,98.4 319.0,101.3 320.2,105.5 321.4,107.5 322.5,111.4 323.7,116.0 325.0,119.5 326.2,122.7 327.5,127.1 328.8,127.2 330.1,135.3 331.4,136.6 332.7,138.2 334.0,144.2 335.3,148.4 336.6,148.0 337.8,148.3 339.1,153.3 340.3,155.4 341.5,169.9 342.7,165.9 343.8,161.6 345.0,169.7 346.1,160.1 347.2,156.7 348.3,163.0 349.3,161.7 350.4,157.1 351.4,154.7 352.4,156.8 353.4,149.7 354.4,156.1 355.4,154.4 356.3,150.3 357.3,151.6 358.2,149.0 359.1,149.1 360.0,145.1 360.9,144.6 361.8,144.5 362.7,143.5 363.5,139.5 364.4,139.4 365.2,137.7 366.0,134.5 366.8,133.9 367.6,129.4 368.4,128.3 369.2,125.0 370.0,124.8 370.7,121.6 371.4,119.3 372.1,116.2 372.8,117.0 373.5,114.4 374.1,112.5 374.8,111.0 375.4,109.5 376.0,107.8 376.6,106.8 377.2,106.0 377.7,106.9 378.3,103.9 378.8,104.5 379.4,104.7 379.9,105.2 380.4,105.9 380.9,104.5 381.4,104.4 381.9,106.7 382.3,108.5 382.8,108.4 383.3,108.2 383.7,108.0 384.1,109.2 384.6,108.9 385.0,110.6 385.4,109.0 385.8,110.5 386.2,110.6 386.6,112.0 387.0,112.0 387.4,115.5 387.8,114.6 388.1,115.1 388.5,110.9 388.9,113.6 389.2,113.6 389.6,115.6 389.9,112.3 390.2,117.2 390.6,117.5 390.9,114.8 391.2,115.6 391.5,116.1 391.9,117.5 392.2,118.5 392.5,120.6 392.8,117.9 393.1,119.4 393.5,118.8 393.8,121.1 394.1,120.0 394.4,121.1 394.7,118.1 395.0,119.5 395.3,118.9 395.6,122.1 395.9,121.3 396.2,120.2 396.5,120.3 396.7,121.7 397.0,120.4 397.3,120.3 397.6,122.3 397.9,125.1 398.2,121.9 398.4,121.8 398.7,121.4 399.0,121.5 399.3,124.2 399.5,125.0 399.8,124.2 400.1,125.0 400.3,125.0 400.6,125.4 400.9,123.5 401.1,125.3 401.4,126.3 401.7,125.5 401.9,126.2 402.2,126.1 402.4,127.0 402.7,128.9 402.9,127.5 403.2,128.2 403.4,129.7 403.7,129.8 403.9,131.8 404.2,127.6 404.4,132.1 404.7,131.1 404.9,132.5 405.1,134.0 405.4,135.0 405.6,135.6 405.8,135.2 406.1,137.6 406.3,136.0 406.5,137.0 406.8,138.9 407.0,138.0 407.2,142.0 407.5,141.4 407.7,143.6 407.9,141.7 408.1,142.0 408.4,143.4 408.6,144.8 408.8,144.1 409.0,146.2 409.2,146.6 409.5,149.7 409.7,147.6 409.9,150.9 410.1,149.4 410.3,149.8 410.5,151.0 410.7,151.3 410.9,154.4 411.2,157.0 411.4,156.6 411.6,158.4 411.8,161.3 412.0,159.9 412.2,160.8 412.4,160.9 412.6,159.2 412.8,165.4 412.9,160.9 413.1,167.6 413.3,167.0 413.4,171.4 413.6,168.9 413.7,167.9 413.9,172.2 414.0,170.4 414.2,172.3 414.3,173.8 414.4,174.1 414.5,175.2 414.7,174.9 414.9,172.8 415.1,179.6 415.3,212.9 415.5,195.2 415.7,185.7 415.8,203.7 416.3,191.1 416.6,205.6 416.7,208.2 417.0,191.6 417.3,196.6 417.8,191.0 417.9,194.9 418.4,208.4 418.7,184.9 418.8,231.0 419.4,213.8 419.5,208.7 419.8,210.5 420.1,208.1 420.6,233.9 420.9,191.3 421.0,219.0 421.1,180.9 421.4,224.9 422.6,188.6 422.7,196.3 422.8,185.1 423.1,181.7 423.2,188.0 423.3,211.1 423.7,192.9 423.9,192.0 424.0,211.6 424.4,189.3 424.8,189.2 425.0,186.3 425.1,191.6 425.7,216.5 426.0,209.7 426.0,188.4 426.1,224.9 427.0,210.7 427.4,186.5 427.6,189.8 427.9,188.2 428.0,191.7 428.2,226.1 428.4,187.9 428.9,198.0 429.4,190.8 429.5,211.2 429.6,190.6 430.0,180.2 430.1,198.9 430.5,189.9 430.6,222.3 430.7,195.8 430.8,189.2 431.1,187.8 431.2,223.8 431.5,217.8 431.6,209.4 431.7,187.4 431.8,225.4 432.1,207.9 432.2,190.2 432.3,202.4 432.4,208.9 432.9,196.8 433.1,185.7 433.2,183.9 433.6,210.1 433.7,181.0 433.8,204.4 434.0,206.6 434.1,187.3 434.2,189.6 434.3,202.7 434.3,192.1 434.6,189.4 434.7,189.1 434.8,214.3 435.0,192.2 435.0,191.5 435.6,230.6 435.8,192.8 435.9,197.1 436.0,185.5 436.1,209.8 436.2,191.1 436.3,195.5 436.4,184.4 436.4,211.3 436.6,183.5 436.7,192.3 437.1,210.7 437.2,231.4 437.3,222.8 437.3,207.4 437.6,184.5 437.7,194.1 437.8,228.1 437.9,204.1 438.7,193.4 438.7,191.2 438.8,207.4 438.9,188.0 439.0,204.6 439.4,199.7 439.6,190.5 439.7,190.8 439.8,199.1 440.2,198.5 440.3,209.9 440.3,182.8 440.4,228.1 440.6,194.4 440.9,190.1 441.0,181.3 441.0,221.2 441.1,192.5 441.4,214.2 441.8,206.0 442.0,197.3 442.1,201.3 442.4,221.3 442.5,178.2 442.6,189.8 442.8,187.4 442.9,220.5 443.2,208.2 443.3,209.7 443.4,186.1 443.4,199.2 443.5,193.0 443.7,187.9 443.8,187.8 444.0,218.2 444.3,207.9 444.4,218.9 444.4,228.9 444.5,200.1 444.8,192.6 444.9,191.7 445.0,209.4 445.0,188.4 445.1,191.8 445.3,190.7 445.4,204.4 445.5,222.9 445.7,226.3 445.8,215.0 446.0,187.1 446.3,183.3 446.4,185.2 446.8,215.0 447.0,182.9 447.0,190.4 447.2,209.6 447.3,214.0 447.5,187.4 447.6,211.6 447.9,190.5 448.0,230.7 448.0,189.0 448.1,194.5 448.2,191.4 448.3,192.2 448.4,183.2 448.4,200.9 448.5,210.3 448.6,198.4 448.6,184.1 448.8,191.8 448.9,192.4 449.0,191.9 449.0,201.0 449.1,222.4 449.2,190.5 449.3,197.3 449.3,196.0 449.4,181.5 449.5,204.9 449.5,200.4 449.6,181.1 449.7,173.1 449.9,197.9 450.0,184.0 450.1,198.4 450.1,195.8 450.3,188.2 450.4,190.0 450.6,189.1 450.7,190.3 450.9,192.2 451.0,187.1 451.2,192.5 451.3,182.0 451.4,182.6 451.5,195.8 451.6,227.7 451.7,192.5 451.8,180.5 452.0,203.3 452.1,229.2 452.2,188.6 452.2,184.5 452.6,181.1 452.6,195.7 452.7,208.3 452.8,184.0 453.0,197.4 453.2,197.5 453.3,197.2 453.8,218.6 454.0,224.9 454.1,188.0 454.1,213.7 454.1,186.5 454.2,185.6 454.5,216.4 454.5,233.3 454.5,197.9 454.6,229.1 454.6,205.3 454.7,195.1 454.8,182.0 454.8,192.1 455.1,207.6 455.2,181.4 455.2,182.5 455.3,179.6 455.5,189.2 455.6,224.2 455.7,193.7 455.7,187.8 455.8,202.0 455.9,209.0 455.9,184.3 456.0,186.2 456.0,192.9 456.5,183.7 456.6,219.0 456.7,189.6 456.8,195.2 456.9,208.0 457.1,188.9 457.2,188.9 457.2,193.6 457.3,185.8 457.4,225.2 457.5,180.3 457.6,192.0 458.0,184.4 458.1,204.6 458.2,185.7 458.4,213.3 458.5,205.4 458.6,213.1 458.6,193.9 458.8,188.7 458.9,197.3 459.1,187.6 459.1,189.3 459.4,231.9 339.8,182.1 341.9,172.5"/>
<polyline clip-path="url(#cp1)" fill="none" stroke="none" marker-start="url(#sorg)" marker-mid="url(#sorg)" marker-end="url(#sorg)" points="275.7,0.2 278.1,4.9 280.3,9.8 282.5,13.7 284.5,17.1 286.5,21.5 288.4,25.1 290.2,29.0 291.9,31.8 293.6,35.8 295.2,39.0 296.7,42.0 298.2,44.6 299.7,48.2 301.1,50.7 302.4,55.6 303.8,57.0 305.2,61.7 306.5,64.2 307.8,67.1 309.1,70.3 310.4,73.4 311.7,77.0 313.0,79.8 314.2,83.6 315.4,84.7 316.6,88.7 317.8,91.0 319.0,94.8 320.2,95.9 321.4,100.5 322.5,105.0 323.7,107.9 325.0,114.5 326.2,118.4 327.5,123.9 328.8,128.7 330.1,131.4 331.4,135.7 332.7,139.0 334.0,143.1 335.3,146.0 336.6,145.9 337.8,148.2 339.1,149.8 340.3,152.6 341.5,156.1 342.7,157.8 343.8,175.6 345.0,157.5 346.1,158.8 347.2,162.1 348.2,155.0 349.3,156.4 350.3,156.6 351.3,158.1 352.2,150.3 353.2,155.7 354.1,149.9 355.0,149.6 355.9,149.4 356.8,147.6 357.7,146.5 358.5,144.1 359.3,141.9 360.1,139.4 360.9,135.9 361.7,134.5 362.5,130.7 363.2,127.9 364.0,127.3 364.7,123.5 365.4,120.4 366.1,119.8 366.8,116.1 367.5,114.6 368.2,111.2 368.9,109.3 369.5,106.2 370.1,103.8 370.8,102.2 371.4,100.7 371.9,99.1 372.5,98.1 373.1,94.2 373.6,94.1 374.2,91.9 374.7,90.9 375.2,88.9 375.7,87.7 376.2,87.3 376.7,86.5 377.2,86.7 377.7,85.7 378.1,87.0 378.6,86.6 379.0,86.8 379.4,87.8 379.9,88.1 380.3,88.5 380.7,89.3 381.1,90.1 381.5,91.8 381.9,92.4 382.3,92.8 382.7,93.9 383.1,93.5 383.4,95.1 383.8,94.1 384.2,97.3 384.5,96.9 384.9,97.7 385.2,98.7 385.5,98.8 385.9,99.2 386.2,101.1 386.5,100.5 386.9,99.8 387.2,101.5 387.5,99.8 387.8,103.5 388.1,102.0 388.4,102.6 388.7,105.2 389.0,105.4 389.3,103.7 389.6,104.6 389.9,105.4 390.1,106.3 390.4,104.8 390.7,105.4 391.0,106.8 391.2,106.2 391.5,107.0 391.8,107.2 392.1,105.8 392.3,106.4 392.6,104.9 392.9,107.6 393.1,109.5 393.4,107.3 393.6,110.0 393.9,110.1 394.1,109.3 394.4,109.5 394.7,109.8 394.9,109.1 395.2,109.9 395.4,110.3 395.6,111.2 395.9,111.6 396.1,110.2 396.4,112.0 396.6,110.6 396.9,111.4 397.1,112.1 397.3,111.9 397.6,112.0 397.8,112.6 398.0,112.0 398.3,112.1 398.5,112.7 398.7,114.1 399.0,113.2 399.2,115.4 399.4,113.9 399.7,110.9 399.9,113.6 400.1,115.9 400.3,114.4 400.5,114.2 400.8,113.9 401.0,116.3 401.2,116.2 401.4,116.0 401.6,116.0 401.8,117.1 402.1,116.7 402.3,114.8 402.5,117.0 402.7,116.5 402.9,116.4 403.1,117.4 403.3,116.8 403.5,114.0 403.7,118.7 403.9,118.3 404.1,117.3 404.3,117.2 404.5,117.9 404.8,116.5 405.0,118.3 405.1,117.9 405.3,117.9 405.5,117.5 405.7,117.9 405.9,119.8 406.1,120.1 406.3,119.5 406.5,119.0 406.7,118.3 406.9,120.1 407.1,121.1 407.3,118.0 407.5,120.9 407.7,117.7 407.9,119.9 408.0,121.7 408.2,121.0 408.4,121.9 408.6,124.7 408.8,126.4 409.0,126.1 409.1,128.9 409.3,127.8 409.5,132.0 409.7,132.5 409.9,134.7 410.0,137.2 410.2,139.0 410.4,142.6 410.6,144.9 410.7,144.7 410.9,145.5 411.1,145.9 411.3,147.9 411.4,150.2 411.6,151.6 411.8,153.1 412.0,154.7 412.1,156.8 412.3,155.8 412.5,157.6 412.6,162.3 412.8,163.3 412.9,162.3 413.1,167.0 413.2,164.6 413.4,166.5 413.5,165.0 413.6,171.4 413.8,170.5 413.9,174.5 414.0,174.7 414.2,174.1 414.3,175.4 414.4,182.7 414.5,180.1 414.6,183.0 414.8,187.0 414.9,196.3 415.0,201.1 415.1,215.5 415.2,196.8 415.4,196.7 415.5,214.5 415.6,207.4 415.7,231.6 415.8,214.7 415.9,200.9 416.0,214.3 416.1,210.9 416.2,202.3 416.3,202.5 416.4,196.0 416.6,207.8 416.7,220.4 417.0,194.7 417.1,204.0 417.2,204.0 417.3,217.8 417.4,195.5 417.5,213.9 417.6,228.5 417.7,196.4 417.8,219.5 418.0,211.0 418.2,231.9 418.4,208.4 418.6,193.9 418.6,205.7 418.7,196.9 418.8,198.6 418.9,216.1 419.0,216.3 419.2,226.5 419.3,225.2 419.4,203.9 419.5,202.6 419.6,207.9 419.7,182.8 419.8,230.7 419.9,198.9 420.0,195.0 420.1,201.0 420.2,218.9 420.3,224.4 420.4,201.7 420.5,212.2 420.6,204.9 420.7,195.5 420.8,208.2 420.8,206.0 420.9,190.1 421.0,222.1 421.1,189.7 421.2,209.1 421.3,194.9 421.6,216.1 421.7,192.8 421.8,203.5 421.9,198.4 422.0,205.0 422.2,199.5 422.4,198.7 422.5,215.9 422.8,226.6 422.8,204.4 422.9,202.5 423.1,200.6 423.2,204.4 423.4,221.9 423.5,192.2 423.6,223.4 423.7,208.1 423.8,211.5 423.9,229.3 424.0,210.5 424.1,212.4 424.2,204.9 424.3,221.2 424.4,198.1 424.5,213.6 424.6,193.9 424.7,221.7 424.8,215.5 424.8,203.7 424.9,201.3 425.0,187.4 425.1,216.8 425.2,204.1 425.3,202.2 425.4,216.2 425.4,198.6 425.5,199.4 425.6,198.3 425.7,191.7 425.9,203.3 425.9,201.7 426.0,218.7 426.3,205.4 426.4,195.5 426.4,212.1 426.5,184.9 426.6,205.2 426.7,218.2 426.8,182.7 426.8,190.4 427.0,204.4 427.1,198.0 427.2,209.3 427.3,190.6 427.6,183.1 427.7,179.7 427.7,218.4 427.8,202.4 427.9,232.2 428.0,189.0 428.1,200.0 428.1,207.8 428.2,202.1 428.3,210.2 428.4,197.5 428.5,180.3 428.6,194.2 428.7,228.7 428.8,214.4 428.8,223.7 428.9,198.0 429.0,201.9 429.1,195.1 429.1,209.1 429.2,204.6 429.3,210.1 429.4,229.8 429.5,195.7 429.5,214.5 429.6,190.1 429.7,220.0 429.8,199.7 429.8,203.4 429.9,205.6 430.0,228.2 430.1,203.8 430.1,199.2 430.2,192.3 430.3,207.7 430.4,195.6 430.4,199.1 430.5,203.9 430.6,213.6 430.7,197.0 430.7,213.6 430.9,189.3 431.1,198.3 431.2,212.8 431.3,190.4 431.3,208.7 431.4,200.9 431.6,195.9 431.7,199.7 431.8,197.0 431.8,197.9 431.9,202.0 432.0,192.9 432.1,210.5 432.2,180.8 432.3,206.2 432.4,196.5 432.4,192.7 432.5,190.4 432.6,195.3 432.6,196.4 432.7,208.2 432.8,191.1 432.9,218.6 433.0,213.2 433.1,219.3 433.1,191.6 433.2,219.2 433.4,212.4 433.5,203.1 433.6,205.3 433.6,202.7 433.7,199.6 433.8,215.3 433.8,217.7 433.9,204.9 434.0,227.4 434.0,221.1 434.1,215.4 434.2,197.9 434.3,233.5 434.3,224.9 434.4,183.7 434.5,194.1 434.5,200.5 434.6,219.3 434.7,223.9 434.7,202.4 434.9,215.8 434.9,192.6 435.0,214.2 435.1,202.3 435.1,208.2 435.2,204.9 435.3,193.6 435.3,195.5 435.5,207.4 435.5,202.8 435.6,221.4 435.7,201.9 435.7,193.3 435.8,202.0 435.9,204.2 436.1,213.2 436.1,221.3 436.3,221.1 436.4,202.9 436.5,209.3 436.6,207.1 436.7,211.2 436.8,232.8 437.0,205.3 437.1,218.0 437.1,209.1 437.2,199.5 437.2,205.0 437.3,203.1 437.4,199.6 437.4,226.4 437.5,200.2 437.6,200.6 437.6,216.2 437.7,198.7 437.8,194.1 437.8,197.1 437.9,212.9 438.0,211.3 438.0,210.2 438.1,201.0 438.1,196.5 438.2,219.3 438.3,191.2 438.3,203.5 438.4,192.4 438.5,201.6 438.6,224.2 438.6,177.0 438.7,226.3 438.8,196.9 438.8,210.2 438.9,217.9 439.0,198.1 439.0,204.9 439.1,213.3 439.2,198.4 439.3,208.8 439.3,207.6 439.4,190.8 439.4,226.4 439.5,209.4 439.6,197.6 439.7,231.8 439.8,229.9 439.9,189.1 439.9,203.5 440.0,222.0 440.1,212.0 440.1,202.6 440.2,198.6 440.2,218.5 440.3,203.8 440.4,211.0 440.4,213.6 440.5,230.8 440.5,209.0 440.6,210.1 440.7,188.1 440.7,222.9 440.8,219.6 440.8,206.0 441.0,200.4 441.0,207.4 441.1,215.1 441.2,218.5 441.3,226.3 441.4,194.7 441.4,197.5 441.5,194.2 441.5,203.1 441.6,202.4 441.7,207.7 441.8,207.5 441.8,197.4 441.9,200.7 442.1,230.7 442.1,194.0 442.2,220.5 442.2,215.2 442.3,190.6 442.4,215.2 442.4,205.0 442.5,211.3 442.5,197.4 442.6,205.3 442.6,212.3 442.7,204.1 442.8,199.8 442.9,196.1 442.9,211.2 443.0,228.7 443.1,213.2 443.2,218.9 443.3,193.5 443.4,194.7 443.4,213.1 443.5,225.8 443.6,205.9 443.7,191.8 443.8,181.2 444.0,201.4 444.1,198.3 444.2,197.3 444.2,200.3 444.3,214.9 444.3,192.6 444.4,203.7 444.5,204.1 444.5,208.3 444.6,193.4 444.6,200.0 444.7,207.4 444.8,217.4 444.9,195.7 445.0,189.4 445.1,226.7 445.2,229.2 445.2,201.2 445.3,229.3 445.4,195.6 445.5,214.8 445.5,211.5 445.6,208.0 445.7,201.4 445.8,184.7 445.8,195.2 445.9,200.6 445.9,201.8 446.0,203.7 446.0,210.2 446.1,199.0 446.2,208.0 446.4,197.8 446.4,232.3 446.5,221.2 446.5,222.1 446.6,215.8 446.6,207.9 446.7,214.4 446.8,203.7 446.8,201.3 446.9,205.6 446.9,204.9 447.0,219.1 447.0,196.1 447.1,195.6 447.2,201.4 447.2,220.0 447.3,197.3 447.4,206.2 447.5,200.6 447.5,196.0 447.6,203.3 447.6,213.3 447.8,228.4 447.8,227.6 447.9,221.4 447.9,205.4 448.0,221.5 448.0,195.8 448.1,204.8 448.1,227.5 448.2,217.8 448.2,191.7 448.3,199.8 448.3,219.5 448.4,222.1 448.5,188.0 448.5,193.1 448.6,203.3 448.6,196.0 448.7,206.1 448.8,211.2 448.8,204.6 448.9,214.5 448.9,217.8 449.0,208.4 449.0,193.7 449.1,225.6 449.1,209.4 449.2,212.5 449.2,208.7 449.3,189.8 449.3,214.9 449.3,199.4 449.4,193.7 449.4,225.5 449.5,202.9 449.5,210.5 449.6,219.6 449.6,230.5 449.7,198.5 449.8,199.3 449.9,173.1 449.9,208.3 450.0,209.5 450.0,218.1 450.1,209.6 450.2,209.3 450.2,205.7 450.3,210.0 450.4,211.5 450.4,195.8 450.5,221.6 450.5,218.6 450.6,218.0 450.6,178.4 450.7,207.9 450.7,204.8 450.7,195.9 450.8,214.9 450.9,224.7 450.9,211.9 451.0,200.9 451.0,227.6 451.1,211.1 451.2,192.9 451.3,227.3 451.3,222.7 451.4,227.0 451.5,218.8 451.5,202.1 451.6,190.8 451.6,196.7 451.7,200.0 451.7,210.0 451.8,214.2 451.8,198.3 451.9,189.3 451.9,201.6 452.0,192.4 452.0,225.8 452.1,193.3 452.1,212.8 452.2,218.0 452.2,195.7 452.2,220.6 452.3,204.1 452.3,197.5 452.4,196.0 452.4,206.9 452.5,221.5 452.5,186.3 452.6,214.5 452.6,203.9 452.7,197.8 452.7,204.3 452.7,205.3 452.8,204.8 452.8,217.4 452.9,196.3 453.1,186.0 453.1,205.3 453.2,201.4 453.2,216.6 453.2,216.3 453.3,234.4 453.3,204.3 453.4,217.5 453.4,201.4 453.5,228.8 453.6,204.6 453.6,202.2 453.7,210.6 453.7,214.7 453.8,204.6 453.8,194.3 453.9,211.0 453.9,197.6 454.0,202.3 454.0,209.2 454.0,209.7 454.1,231.7 454.2,218.0 454.3,196.4 454.4,200.2 454.4,209.6 454.4,220.0 454.5,200.7 454.5,202.6 454.6,222.0 454.6,196.8 454.7,222.0 454.7,203.0 454.8,217.3 454.8,204.5 454.9,189.6 454.9,200.1 455.0,203.4 455.0,202.1 455.0,205.7 455.1,211.1 455.1,209.4 455.2,207.6 455.3,203.0 455.3,201.4 455.3,199.2 455.4,225.4 455.4,185.9 455.5,208.0 455.6,216.3 455.6,201.9 455.7,225.2 455.7,195.1 455.8,201.6 455.9,204.6 455.9,201.2 455.9,200.5 456.0,205.2 456.0,220.0 456.1,205.7 456.2,196.9 456.2,189.4 456.4,184.5 456.4,212.4 456.5,199.4 456.5,194.2 456.5,198.1 456.6,212.3 456.6,207.9 456.7,206.4 456.8,191.1 456.8,216.4 456.9,196.5 456.9,190.5 456.9,199.2 457.0,219.2 457.0,201.6 457.1,200.1 457.1,225.7 457.2,212.4 457.2,232.5 457.3,212.7 457.3,198.3 457.4,194.8 457.4,201.6 457.4,208.4 457.5,220.1 457.5,218.7 457.6,207.8 457.6,194.3 457.6,220.1 457.7,207.5 457.7,195.1 457.8,193.6 457.8,209.3 457.8,211.1 457.9,218.1 457.9,193.6 458.1,205.4 458.1,225.9 458.1,221.4 458.2,196.1 458.2,214.8 458.3,224.2 458.3,216.7 458.4,230.7 458.4,189.2 458.5,206.0 458.5,194.8 458.6,202.1 458.6,212.7 458.7,208.4 458.7,224.7 458.8,206.3 458.8,213.3 458.9,211.5 458.9,197.8 458.9,201.6 459.0,205.8 459.0,212.2 459.1,229.7 459.1,200.6 459.2,201.0 459.2,195.1 459.2,182.0 459.3,224.8 459.3,213.0 459.4,205.4 340.2,196.2 341.9,185.3 339.8,180.5"/>
<polyline clip-path="url(#cp1)" fill="none" stroke="none" marker-start="url(#sblk)" marker-mid="url(#sblk)" marker-end="url(#sblk)" points="416.5,184.6 417.6,191.7 419.0,192.8 421.5,203.9 422.1,186.7 423.4,189.3 424.3,189.5 431.3,223.8 433.9,184.2 434.1,189.8 436.8,184.6 438.5,198.5 439.2,186.9 440.1,201.4 443.0,185.4 443.7,190.9 444.1,199.1 445.4,223.6 445.9,202.6 446.9,192.6 447.8,196.7 448.8,208.9 449.7,231.8 449.9,184.8 450.8,210.7 451.1,225.6 452.9,217.0 453.1,204.9 453.4,180.1 453.6,208.7 456.2,198.0 456.9,183.3 457.9,185.4 459.2,192.8 459.2,196.3"/>
<polyline clip-path="url(#cp2)" fill="none" stroke="none" marker-start="url(#dblk)" marker-mid="url(#dblk)" marker-end="url(#dblk)" points="491.8,22.6 493.9,26.9 496.0,35.0 498.2,40.9 500.3,46.4 502.5,51.1 504.5,54.6 506.5,58.5 508.4,64.3 510.3,69.9 512.0,74.7 513.7,76.3 515.4,79.6 516.9,84.4 518.5,86.1 520.0,88.1 521.4,91.0 522.8,91.9 524.2,95.5 525.5,102.0 526.8,108.3 528.0,115.4 529.2,118.6 530.4,121.5 531.6,127.8 532.7,131.4 533.7,126.0 534.7,131.6 535.7,131.3 536.7,135.4 537.6,133.6 538.4,139.9 539.3,141.5 540.1,142.1 540.9,140.4 541.7,144.9 542.4,142.7 543.1,142.0 543.8,152.5 544.5,144.4 545.2,166.7 545.8,162.0 546.4,140.7 547.1,157.7 547.7,147.3 548.3,155.6 548.9,156.4 549.5,142.7 550.1,155.4 550.6,155.5 551.2,175.4 551.8,149.4 552.3,172.1 552.9,150.4 553.4,156.3 554.0,152.8 554.5,187.9 555.0,170.9 555.5,208.9 556.0,173.1 556.5,177.7 557.0,178.0 557.5,156.1 558.0,160.5 558.5,190.2 559.0,158.4 559.5,165.8 559.9,161.8 560.4,175.5 560.9,159.3 561.3,161.0 561.8,167.7 562.2,164.7 562.6,155.6 563.1,182.3 563.5,152.3 563.9,153.2 564.4,152.6 564.8,184.2 565.2,160.2 565.6,155.4 566.0,154.1 566.4,172.5 566.8,154.9 567.2,153.3 567.6,177.0 568.0,154.0 568.4,161.1 568.8,163.7 569.2,160.3 569.5,163.5 569.9,193.4 570.3,159.9 570.6,154.1 571.0,149.5 571.4,162.6 571.7,161.5 572.1,170.2 572.4,160.8 572.8,160.7 573.1,158.9 573.5,160.5 573.8,168.3 574.2,161.8 574.5,167.1 574.8,206.8 575.2,175.5 575.5,152.5 575.8,202.8 576.2,172.5 576.5,157.7 576.8,184.5 577.1,165.4 577.4,160.3 577.7,160.2 578.1,157.5 578.4,166.0 578.7,187.5 579.0,162.6 579.3,173.8 579.6,204.0 579.9,156.1 580.2,170.3 580.5,162.8 580.8,157.3 581.1,157.6 581.3,164.9 581.6,173.8 581.9,161.2 582.2,166.1 582.5,179.4 582.8,170.9 583.0,182.2 583.3,174.1 583.6,174.6 583.9,200.9 584.1,177.2 584.4,167.5 584.7,178.8 584.9,158.9 585.2,162.8 585.5,180.2 585.7,177.1 586.0,194.5 586.3,165.2 586.5,155.5 586.8,201.7 587.0,185.5 587.3,158.3 587.5,190.7 587.8,165.6 588.0,153.6 588.3,162.4 588.5,161.8 588.8,194.2 589.0,160.1 589.3,163.5 589.5,163.3 589.7,162.7 590.0,159.5 590.2,168.9 590.4,184.1 590.7,175.9 590.9,159.4 591.1,158.0 591.4,166.8 591.6,160.6 591.8,161.0 592.1,155.0 592.3,197.9 592.5,180.1 592.7,159.0 593.0,179.7 593.2,186.8 593.4,151.1 593.6,161.2 593.8,162.1 594.1,174.8 594.3,163.5 594.5,162.9 594.7,163.7 594.9,193.7 595.1,198.4 595.3,161.2 595.6,159.0 595.8,206.1 596.0,158.7 596.2,160.8 596.4,164.3 596.6,171.1 596.8,179.4 597.0,169.5 597.2,159.2 597.4,171.1 597.6,167.2 597.8,191.4 598.0,163.3 598.2,156.8 598.4,158.2 598.6,184.4 598.8,160.6 599.0,153.1 599.2,160.4 599.4,163.1 599.6,179.9 599.8,158.3 599.9,172.4 600.1,174.1 600.3,159.7 600.5,162.0 600.7,187.1 600.9,186.3 601.1,174.4 601.3,167.2 601.4,178.0 601.6,162.0 601.8,162.2 602.0,158.8 602.2,162.6 602.4,162.2 602.5,198.5 602.7,161.6 602.9,178.7 603.1,179.3 603.2,161.6 603.4,177.1 603.6,153.2 603.8,163.4 603.9,172.9 604.1,152.3 604.3,157.4 604.5,175.0 604.6,161.0 604.8,157.6 605.0,160.5 605.1,159.6 605.3,169.8 605.5,166.3 605.6,159.6 605.8,157.8 606.0,159.8 606.1,174.1 606.3,163.1 606.5,165.8 606.6,158.2 606.8,153.7 607.0,155.5 607.1,164.2 607.3,158.4 607.5,153.9 607.6,151.1 607.8,157.5 607.9,155.0 608.1,154.6 608.2,154.4 608.4,157.6 608.6,157.4 608.7,162.5 608.9,161.8 609.0,164.6 609.2,159.9 609.3,152.3 609.5,152.8 609.6,156.3 609.8,151.5 610.0,156.0 610.1,159.0 610.3,147.4 610.4,143.3 610.6,154.5 610.7,145.8 610.9,148.5 611.0,139.4 611.2,151.1 611.3,144.2 611.4,138.7 611.6,136.8 611.7,136.9 611.9,134.6 612.0,133.1 612.2,129.9 612.3,136.1 612.5,129.8 612.6,128.8 612.7,127.6 612.9,121.2 613.0,126.4 613.2,123.5 613.3,122.9 613.5,123.0 613.6,120.2 613.7,123.8 613.9,119.4 614.0,118.3 614.2,117.7 614.3,119.1 614.4,120.0 614.6,116.2 614.7,113.7 614.8,118.7 615.0,113.3 615.1,117.6 615.2,114.0 615.4,112.0 615.5,111.5 615.6,113.2 615.8,113.4 615.9,110.4 616.0,112.2 616.2,113.9 616.3,108.5 616.4,106.0 616.6,106.2 616.7,106.0 616.8,108.1 617.0,108.4 617.1,107.7 617.2,112.1 617.4,106.2 617.5,109.3 617.6,117.4 617.7,115.5 617.9,114.8 618.0,115.2 618.1,119.2 618.2,116.4 618.4,115.7 618.5,113.5 618.6,116.3 618.7,115.5 618.9,116.1 619.0,116.6 619.1,118.6 619.2,118.7 619.4,122.9 619.5,117.9 619.6,121.1 619.7,128.7 619.9,123.0 620.0,127.9 620.1,128.5 620.2,129.9 620.3,128.5 620.5,122.9 620.6,126.3 620.7,126.7 620.8,124.3 620.9,127.8 621.1,126.3 621.2,125.8 621.3,132.0 621.4,131.6 621.5,130.4 621.6,130.3 621.8,132.1 621.9,133.2 622.0,133.8 622.1,135.2 622.2,134.4 622.3,138.0 622.5,139.1 622.6,138.6 622.7,135.0 622.8,135.5 622.9,140.1 623.0,137.5 623.1,138.3 623.3,130.7 623.4,130.3 623.5,141.3 623.6,141.6 623.7,148.0 623.8,144.6 623.9,142.1 624.0,141.2 624.1,136.6 624.3,147.0 624.4,140.0 624.5,145.4 624.6,144.0 624.7,144.7 624.8,148.9 624.9,142.0 625.0,142.7 625.1,141.3 625.2,143.3 625.3,155.6 625.5,144.0 625.6,153.3 625.7,151.4 625.8,151.1 625.9,151.9 626.0,143.1 626.1,149.8 626.2,158.2 626.3,145.2 626.4,148.1 626.5,145.9 626.6,151.0 626.7,144.9 626.8,160.6 626.9,148.3 627.0,143.9 627.1,163.0 627.2,157.5 627.3,154.5 627.5,154.8 627.6,149.6 627.7,150.4 627.8,157.1 627.9,158.8 628.0,159.2 628.1,153.8 628.2,150.3 628.3,151.7 628.5,164.9 628.7,151.2 628.8,164.2 628.9,160.0 629.0,160.0 629.1,148.2 629.3,152.2 629.4,156.6 629.5,147.1 629.6,166.9 629.8,159.6 629.8,150.1 629.9,155.8 630.0,169.0 630.1,148.8 630.2,159.5 630.3,163.6 630.4,153.5 630.5,165.3 630.6,155.6 630.7,170.0 630.8,163.1 630.9,160.2 631.0,179.1 631.1,167.0 631.2,172.3 631.4,155.5 631.5,168.1 631.6,169.1 631.7,159.0 631.8,168.2 631.8,154.2 631.9,162.3 632.0,154.0 632.1,164.2 632.3,157.2 632.4,161.5 632.7,158.1 632.9,183.5 633.0,164.8 633.1,163.4 633.3,184.4 633.4,171.1 633.5,169.5 633.6,166.4 633.7,154.5 633.8,158.5 633.8,183.0 633.9,174.6 634.0,170.7 634.1,172.7 634.2,161.3 634.3,169.1 634.4,159.5 634.6,160.9 634.6,164.0 634.7,171.7 634.8,163.7 634.9,174.8 635.0,172.4 635.2,184.8 635.2,157.5 635.4,175.3 635.5,180.0 635.6,195.4 635.7,177.7 635.8,161.9 635.9,178.0 636.0,177.0 636.1,161.2 636.3,167.0 636.4,172.0 636.4,150.6 636.6,171.5 636.7,167.2 636.8,172.2 636.9,175.1 636.9,162.7 637.0,174.8 637.1,167.3 637.2,163.4 637.3,172.1 637.4,160.8 637.5,159.8 637.6,159.9 637.7,199.3 637.8,168.2 637.8,169.4 637.9,165.3 638.0,164.6 638.3,174.2 638.3,159.1 638.4,164.5 638.5,166.3 638.6,170.5 638.7,188.3 638.8,192.1 638.9,187.7 639.0,192.1 639.0,164.7 639.1,168.3 639.3,176.1 639.4,172.0 639.4,160.8 639.5,161.6 639.6,183.6 639.8,170.0 639.9,162.9 640.0,178.4 640.1,189.2 640.1,199.1 640.2,173.6 640.3,171.8 640.4,167.0 640.5,192.9 640.5,200.9 640.6,170.0 640.7,178.1 640.8,175.0 640.9,160.2 641.1,183.9 641.2,169.6 641.3,156.5 641.4,195.5 641.5,175.2 641.6,173.1 642.0,177.3 642.2,167.7 642.3,179.9 642.4,169.6 642.6,170.7 642.8,184.0 642.8,170.5 643.0,175.9 643.1,190.1 643.4,178.9 643.5,175.9 643.7,181.7 643.8,197.8 644.1,181.4 644.5,174.2 644.6,194.0 644.6,205.5 644.7,170.9 644.9,183.1 645.0,223.0 645.1,185.0 645.2,182.3 645.3,193.3 645.5,182.7 645.5,181.3 645.7,216.5 645.8,203.0 645.9,178.8 645.9,188.3 646.0,194.1 646.1,173.1 646.3,174.2 646.4,219.3 646.5,177.7 646.7,171.3 646.9,193.3 647.1,203.8 647.1,193.8 647.5,214.3 647.6,191.9 647.8,195.6 647.9,199.3 647.9,176.0 648.3,173.0 648.6,179.0 648.6,180.3 648.8,182.6 649.0,195.3 649.0,212.3 649.1,180.9 649.1,181.1 649.2,206.0 649.3,181.1 649.6,180.0 649.6,190.0 649.8,175.2 650.0,176.6 650.1,197.3 650.2,183.9 650.3,182.3 650.4,182.3 650.4,179.3 650.9,179.5 651.1,188.9 651.3,182.7 651.4,209.0 652.1,213.6 652.3,183.0 652.4,193.4 652.5,195.0 653.0,191.2 653.2,190.3 653.2,189.9 653.3,183.6 653.7,199.8 654.1,180.8 654.3,190.7 654.7,199.7 655.0,184.3 655.3,193.6 655.5,188.7 655.5,189.0 655.6,217.3 655.7,186.1 656.2,195.3 656.3,189.1 656.5,186.4 656.8,206.4 657.2,190.0 657.8,194.8 658.0,209.2 658.7,183.8 658.7,200.0 659.1,187.3 659.5,199.9 659.7,182.6 659.8,204.2 660.1,196.5 660.2,188.2 660.3,190.5 660.4,186.1 660.9,205.1 661.0,187.6 661.2,195.0 661.8,189.4 661.8,209.9 662.0,191.5 662.1,216.9 662.1,192.2 662.4,231.2 662.5,188.6 663.0,198.5 663.4,215.5 663.9,223.3 663.9,220.7 664.3,202.3 665.1,190.3 665.1,183.6 665.4,195.3 665.8,206.6 665.9,194.3 666.1,193.3 666.4,194.1 666.7,209.4 666.8,216.9 667.5,194.7 667.8,189.1 668.1,212.5 668.6,193.4 668.8,196.5 668.9,195.1 669.3,195.0 669.5,231.2 669.6,194.6 669.7,193.6 669.8,199.1 670.0,188.2 670.1,193.0 670.9,203.3 671.6,194.4 671.6,229.1 671.7,216.2 671.8,195.4 671.9,200.6 672.0,194.7 672.2,212.4 672.3,193.4 672.4,194.6 672.5,194.7 672.7,197.9 672.7,198.2 672.8,201.2 673.0,194.5 673.0,201.6 673.1,196.2 673.5,196.8 673.9,185.9 674.0,195.4 674.2,221.8 674.3,192.4 674.5,194.9 674.7,197.5 674.8,195.5 675.3,224.6 675.5,197.0 675.6,198.0 676.1,197.6 676.1,192.8 676.3,201.2 676.5,212.2 676.6,196.9 677.0,202.9 677.2,197.9 550.7,206.4 552.0,209.0 560.6,227.8 596.5,223.7 596.5,227.5 560.4,211.5"/>
<polyline clip-path="url(#cp2)" fill="none" stroke="none" marker-start="url(#dgrn)" marker-mid="url(#dgrn)" marker-end="url(#dgrn)" points="491.8,41.8 493.9,46.1 496.0,48.6 498.2,53.8 500.3,60.8 502.5,64.7 504.5,67.2 506.5,71.6 508.4,75.8 510.3,79.9 512.0,82.2 513.7,84.0 515.4,87.1 516.9,90.9 518.5,92.6 520.0,96.8 521.4,99.5 522.8,102.7 524.2,104.1 525.5,110.0 526.8,107.8 528.0,109.1 529.2,111.9 530.4,113.6 531.6,111.1 532.7,112.1 533.8,117.8 534.9,116.5 536.0,122.0 537.0,121.0 538.1,121.6 539.1,122.2 540.0,124.6 541.0,123.0 542.0,126.7 542.9,123.5 543.8,125.0 544.7,124.6 545.6,128.6 546.5,127.9 547.4,126.4 548.2,134.7 549.0,129.2 549.9,130.6 550.7,132.7 551.5,137.3 552.2,132.6 553.0,135.7 553.8,134.7 554.5,130.7 555.2,138.1 555.9,139.6 556.6,136.5 557.3,137.9 557.9,134.2 558.6,134.9 559.2,139.0 559.8,142.7 560.5,140.0 561.1,142.8 561.7,145.5 562.3,143.3 562.8,145.3 563.4,148.6 564.0,140.7 564.5,147.4 565.1,139.8 565.6,147.4 566.1,147.1 566.7,145.2 567.2,144.0 567.7,147.5 568.2,146.9 568.7,148.7 569.2,145.8 569.6,151.0 570.1,145.7 570.6,148.4 571.0,148.3 571.5,155.3 571.9,144.8 572.4,148.9 572.8,156.0 573.3,148.4 573.7,146.4 574.1,152.7 574.5,150.4 574.9,155.9 575.3,148.2 575.8,153.0 576.2,155.6 576.5,157.6 576.9,147.9 577.3,160.0 577.7,148.9 578.1,146.5 578.5,148.9 578.8,153.9 579.2,151.8 579.6,155.7 579.9,156.1 580.3,155.2 580.6,152.5 581.0,163.9 581.3,144.3 581.7,146.4 582.0,151.8 582.3,148.7 582.7,143.0 583.0,150.9 583.3,151.2 583.6,143.7 584.0,159.7 584.3,162.5 584.6,162.2 584.9,152.7 585.2,155.8 585.5,149.9 585.8,156.1 586.1,151.7 586.4,157.1 586.7,153.1 587.0,160.6 587.3,159.3 587.5,161.6 587.8,147.2 588.1,146.2 588.4,156.6 588.7,151.7 588.9,156.4 589.2,155.8 589.5,155.1 589.7,159.1 590.0,157.1 590.2,156.5 590.5,149.9 590.8,163.2 591.0,154.5 591.3,159.7 591.5,155.4 591.8,160.4 592.0,154.4 592.3,154.7 592.5,154.2 592.7,150.3 593.0,150.8 593.2,152.7 593.5,152.8 593.7,148.8 593.9,165.3 594.2,148.8 594.4,151.7 594.6,165.4 594.8,150.1 595.1,156.8 595.3,156.2 595.5,151.9 595.7,146.3 595.9,145.7 596.1,152.5 596.4,154.5 596.6,142.8 596.8,153.0 597.0,149.3 597.2,156.5 597.4,152.9 597.6,148.5 597.8,150.0 598.0,152.0 598.2,158.2 598.4,166.4 598.6,153.3 598.8,152.1 599.0,154.8 599.2,151.5 599.4,154.6 599.6,153.4 599.8,151.5 600.0,148.0 600.2,152.1 600.4,155.6 600.6,151.6 600.7,158.3 600.9,155.5 601.1,150.4 601.3,159.1 601.5,146.1 601.7,156.3 601.9,159.4 602.0,149.6 602.2,150.1 602.4,154.9 602.6,157.1 602.8,152.4 602.9,151.5 603.1,154.5 603.3,151.4 603.5,145.2 603.6,149.3 603.8,150.0 604.0,143.8 604.2,151.7 604.3,146.8 604.5,153.1 604.7,143.6 604.8,145.9 605.0,143.6 605.2,154.9 605.4,154.4 605.5,154.8 605.7,154.5 605.9,151.8 606.0,151.4 606.2,141.8 606.4,148.6 606.5,145.5 606.7,145.8 606.8,142.8 607.0,150.6 607.2,146.6 607.3,141.6 607.5,147.1 607.7,145.1 607.8,142.3 608.0,144.0 608.1,142.6 608.3,138.8 608.4,140.5 608.6,144.8 608.8,144.2 608.9,143.7 609.1,140.3 609.2,140.5 609.4,140.9 609.5,141.2 609.7,137.2 609.8,135.9 610.0,139.4 610.1,136.3 610.3,134.5 610.4,132.9 610.6,132.1 610.7,135.7 610.9,133.6 611.0,129.9 611.2,127.4 611.3,132.3 611.5,131.3 611.6,129.6 611.8,128.0 611.9,121.7 612.1,121.9 612.2,124.3 612.4,121.3 612.5,121.1 612.6,118.4 612.8,116.9 612.9,117.9 613.1,114.9 613.2,114.4 613.4,113.6 613.5,112.3 613.6,112.6 613.8,111.7 613.9,106.0 614.0,106.5 614.2,104.7 614.3,105.7 614.5,101.7 614.6,103.6 614.7,102.8 614.9,101.9 615.0,99.1 615.1,99.5 615.3,97.7 615.4,98.9 615.5,98.9 615.7,95.3 615.8,95.5 615.9,95.6 616.1,94.5 616.2,96.0 616.3,93.6 616.5,93.4 616.6,92.4 616.7,95.8 616.9,95.0 617.0,96.4 617.1,96.2 617.3,94.3 617.4,95.5 617.5,96.5 617.6,99.3 617.8,98.7 617.9,100.6 618.0,101.0 618.2,101.6 618.3,103.2 618.4,102.8 618.5,100.7 618.7,102.9 618.8,107.2 618.9,103.8 619.0,108.2 619.2,109.4 619.3,106.8 619.4,108.9 619.5,107.0 619.6,111.0 619.8,109.4 619.9,109.4 620.0,111.5 620.1,112.1 620.3,112.6 620.4,114.5 620.5,114.7 620.6,114.7 620.7,117.8 620.9,120.7 621.0,117.9 621.1,117.4 621.2,117.5 621.3,120.5 621.4,119.7 621.6,120.7 621.7,118.3 621.8,120.1 621.9,120.6 622.0,124.5 622.1,123.1 622.3,120.3 622.4,125.4 622.5,127.2 622.6,128.1 622.7,122.0 622.8,127.1 622.9,128.9 623.1,129.0 623.2,128.1 623.3,126.3 623.4,128.8 623.5,129.5 623.6,131.7 623.7,132.3 623.8,131.1 624.0,133.7 624.1,130.7 624.2,131.8 624.3,133.3 624.4,135.1 624.5,133.8 624.6,137.5 624.7,136.2 624.8,134.1 624.9,136.4 625.1,135.1 625.2,135.4 625.3,135.0 625.4,141.3 625.5,140.6 625.6,136.0 625.7,142.1 625.8,142.2 625.9,139.6 626.0,142.0 626.1,146.8 626.2,142.4 626.3,143.1 626.4,145.2 626.5,140.6 626.6,140.3 626.8,140.3 626.9,143.3 627.0,146.1 627.1,142.3 627.2,141.4 627.3,145.2 627.4,144.1 627.5,147.0 627.6,145.2 627.7,145.4 627.8,145.9 627.9,146.5 628.0,144.5 628.1,144.4 628.2,152.0 628.3,156.9 628.4,151.2 628.5,144.3 628.6,148.4 628.7,152.4 628.8,145.1 628.9,148.0 629.0,148.4 629.1,147.5 629.2,147.9 629.3,153.6 629.4,149.4 629.5,150.2 629.6,156.9 629.7,149.2 629.8,146.8 629.9,154.1 630.0,159.1 630.1,153.2 630.2,153.8 630.3,149.6 630.4,150.8 630.5,159.3 630.5,158.9 630.6,156.5 630.7,152.7 630.8,151.5 630.9,152.1 631.0,152.1 631.1,158.3 631.2,153.6 631.3,154.7 631.4,159.6 631.5,159.8 631.6,157.1 631.7,159.5 631.8,157.4 631.9,152.2 632.0,157.7 632.1,157.0 632.1,157.4 632.2,160.0 632.3,157.4 632.4,166.0 632.5,159.1 632.6,160.8 632.7,162.0 632.8,159.9 632.9,164.5 633.0,165.5 633.1,165.1 633.2,159.4 633.2,159.2 633.3,160.4 633.4,162.7 633.5,157.1 633.6,160.6 633.7,160.0 633.8,161.9 633.9,161.4 634.0,171.1 634.0,168.6 634.1,173.3 634.2,162.4 634.3,163.5 634.4,165.5 634.5,181.7 634.6,182.5 634.7,165.4 634.8,173.8 634.8,189.0 634.9,164.9 635.0,168.3 635.1,182.5 635.2,177.1 635.3,166.3 635.4,186.6 635.4,181.4 635.5,178.7 635.6,166.6 635.7,171.1 635.8,187.4 635.9,178.2 636.0,182.3 636.0,172.0 636.1,191.7 636.2,172.7 636.3,185.3 636.4,178.2 636.5,170.5 636.5,193.4 636.6,169.8 636.8,177.4 636.9,169.9 637.0,168.4 637.0,175.9 637.1,174.8 637.2,175.7 637.3,183.8 637.4,207.6 637.5,175.9 637.5,211.0 637.6,181.4 637.7,178.0 637.8,166.7 637.9,172.1 637.9,182.7 638.0,187.1 638.1,176.0 638.2,184.0 638.3,192.8 638.4,177.9 638.4,173.3 638.5,176.4 638.6,179.8 638.7,185.3 638.8,192.8 638.8,177.6 638.9,182.4 639.0,181.3 639.1,182.9 639.1,199.3 639.2,202.7 639.3,181.3 639.4,180.9 639.5,180.7 639.5,181.7 639.6,182.5 639.7,184.0 639.8,182.6 639.9,180.0 639.9,179.8 640.0,186.4 640.1,224.6 640.2,194.6 640.2,196.2 640.4,185.6 640.5,218.1 640.6,181.7 640.7,180.5 640.9,181.9 640.9,182.6 641.0,182.8 641.1,180.6 641.2,189.7 641.2,178.9 641.3,223.4 641.4,173.4 641.5,180.6 641.5,188.6 641.6,194.4 641.7,186.4 641.8,191.0 642.0,197.7 642.1,192.5 642.1,188.4 642.2,188.2 642.3,203.0 642.3,188.2 642.4,198.3 642.5,214.3 642.6,195.6 642.6,208.6 642.7,187.5 642.8,194.2 642.9,198.0 642.9,193.8 643.0,197.8 643.1,212.3 643.2,188.7 643.2,186.8 643.3,195.7 643.4,182.8 643.4,190.7 643.5,209.4 643.6,190.9 643.7,199.5 643.7,197.1 643.8,209.9 643.9,194.6 644.2,202.6 644.2,191.0 644.3,187.7 644.4,205.8 644.4,187.1 644.5,190.2 644.6,202.5 644.7,194.7 644.8,192.3 644.9,189.6 645.1,189.0 645.1,209.1 645.2,192.7 645.3,189.3 645.3,185.1 645.4,191.2 645.5,212.6 645.5,191.5 645.6,204.2 645.7,199.7 645.8,188.1 645.9,201.3 645.9,184.1 646.0,201.9 646.2,206.5 646.2,191.9 646.3,193.8 646.4,209.8 646.4,188.7 646.5,194.9 646.6,192.8 646.6,202.0 646.7,205.3 646.8,197.8 646.9,192.8 647.0,204.0 647.0,194.0 647.1,197.0 647.2,197.9 647.2,187.7 647.3,189.1 647.4,198.8 647.4,195.8 647.5,214.5 647.5,181.7 647.6,199.1 647.7,212.4 647.7,197.5 647.8,207.9 647.9,196.7 647.9,196.4 648.0,210.0 648.1,189.1 648.1,183.4 648.2,203.8 648.3,198.5 648.3,198.5 648.4,201.1 648.5,206.2 648.5,194.4 648.6,204.0 648.6,201.7 648.7,190.3 648.8,196.4 648.8,201.2 648.9,192.6 649.0,212.7 649.0,195.7 649.1,209.3 649.2,219.0 649.2,188.6 649.3,189.5 649.3,206.3 649.4,196.7 649.5,205.4 649.5,223.4 649.6,195.0 649.7,196.5 649.9,201.9 650.0,214.1 650.0,202.9 650.1,211.2 650.2,187.6 650.3,196.5 650.4,211.7 650.5,191.9 650.5,201.4 650.6,196.1 650.6,187.1 650.7,197.8 650.8,208.2 650.9,212.6 651.0,204.7 651.0,203.6 651.1,195.8 651.1,198.0 651.3,199.5 651.3,191.2 651.4,198.1 651.4,205.2 651.5,215.9 651.6,211.7 651.6,193.0 651.8,195.3 651.9,194.2 651.9,221.9 652.0,209.7 652.0,204.1 652.1,195.6 652.1,217.9 652.3,206.8 652.3,216.1 652.4,198.0 652.5,186.7 652.6,208.6 652.6,188.7 652.7,206.3 652.7,204.5 652.9,234.1 652.9,183.4 653.0,197.7 653.1,205.2 653.2,202.2 653.3,197.2 653.4,206.0 653.4,190.3 653.5,216.5 653.5,196.9 653.6,207.7 653.7,207.8 653.8,199.4 653.8,212.4 653.9,219.0 653.9,197.4 654.0,202.9 654.1,204.9 654.1,222.5 654.2,192.2 654.2,210.2 654.3,201.3 654.4,199.1 654.4,196.8 654.5,217.8 654.6,194.9 654.6,216.6 654.7,198.4 654.7,211.8 654.8,189.6 654.8,196.4 654.9,204.4 655.0,195.3 655.0,190.8 655.1,202.5 655.1,213.5 655.2,202.5 655.2,200.6 655.3,208.2 655.3,199.1 655.4,215.7 655.4,218.4 655.5,193.0 655.6,217.6 655.7,206.8 655.7,212.6 655.8,230.4 655.9,226.1 655.9,200.9 656.0,190.5 656.1,216.0 656.2,217.3 656.3,196.3 656.3,224.0 656.4,206.5 656.5,192.6 656.5,208.2 656.6,196.9 656.8,192.2 656.9,200.7 656.9,206.2 657.0,195.7 657.1,195.9 657.2,207.2 657.2,220.9 657.3,194.5 657.3,202.4 657.4,216.5 657.4,205.1 657.5,194.8 657.5,205.1 657.6,189.0 657.6,197.6 657.7,214.3 657.7,216.0 657.8,209.1 657.8,213.2 657.9,192.0 658.0,198.6 658.0,218.2 658.1,209.9 658.2,196.6 658.2,196.3 658.3,219.0 658.4,194.5 658.4,205.7 658.5,223.3 658.5,223.7 658.6,199.9 658.6,202.6 658.7,210.5 658.7,195.6 658.8,191.4 658.8,198.8 658.9,221.1 659.0,210.8 659.0,195.1 659.1,188.9 659.1,196.1 659.2,204.5 659.2,218.4 659.3,197.2 659.3,204.9 659.4,190.0 659.4,187.5 659.5,204.1 659.5,194.7 659.6,195.9 659.6,186.1 659.7,214.8 659.7,189.8 659.8,204.2 659.8,192.0 659.9,200.9 659.9,221.9 660.0,206.5 660.0,204.9 660.1,215.7 660.1,210.6 660.2,222.6 660.2,192.3 660.3,204.6 660.4,195.8 660.4,211.8 660.5,210.9 660.5,204.1 660.6,215.5 660.6,193.7 660.7,190.9 660.7,199.5 660.8,218.9 660.8,211.1 660.9,204.4 660.9,199.3 661.0,204.3 661.0,220.2 661.1,200.0 661.1,199.8 661.2,210.2 661.2,213.2 661.3,206.2 661.3,224.4 661.3,207.2 661.4,196.9 661.4,187.0 661.6,209.3 661.6,211.1 661.7,223.7 661.7,219.5 661.8,209.1 661.9,203.4 661.9,209.1 662.0,198.7 662.0,210.6 662.1,220.4 662.1,215.6 662.2,207.6 662.2,198.3 662.3,198.3 662.3,202.2 662.4,211.8 662.4,212.4 662.5,219.7 662.6,197.5 662.6,203.7 662.7,212.9 662.7,216.7 662.8,200.0 662.8,199.8 662.9,221.5 662.9,215.1 663.0,211.8 663.0,203.2 663.0,197.7 663.1,205.3 663.1,210.0 663.2,212.6 663.2,217.7 663.3,223.1 663.4,202.8 663.4,210.4 663.5,206.6 663.5,190.9 663.6,194.9 663.6,201.2 663.6,207.7 663.7,210.2 663.7,223.4 663.8,205.4 663.8,202.9 663.9,210.0 663.9,195.6 664.0,203.9 664.0,197.2 664.1,199.7 664.1,202.0 664.2,232.0 664.2,220.8 664.3,208.0 664.4,204.0 664.5,205.2 664.5,191.0 664.5,206.6 664.6,194.4 664.7,190.6 664.7,198.0 664.8,202.0 664.8,205.1 664.9,192.0 664.9,205.0 664.9,209.6 665.1,218.1 665.1,199.6 665.2,205.5 665.2,199.5 665.3,198.6 665.3,203.7 665.4,225.8 665.4,205.3 665.5,195.5 665.6,197.3 665.6,214.8 665.6,199.9 665.7,223.3 665.7,198.8 665.8,198.3 665.8,232.5 665.9,191.5 665.9,201.4 666.0,212.9 666.0,214.0 666.0,196.2 666.1,201.9 666.2,189.7 666.2,218.4 666.3,201.7 666.3,206.6 666.3,216.4 666.4,198.2 666.4,199.8 666.5,204.9 666.5,217.5 666.6,194.8 666.6,225.9 666.6,210.9 666.7,196.4 666.7,206.4 666.8,213.7 666.8,223.0 666.9,217.9 666.9,221.5 666.9,204.7 667.0,216.1 667.0,183.5 667.2,228.1 667.2,200.9 667.2,201.9 667.3,206.5 667.3,217.3 667.4,210.6 667.4,206.7 667.6,223.4 667.6,214.7 667.7,193.7 667.7,221.3 667.8,204.6 667.8,220.8 667.9,187.6 667.9,200.4 667.9,198.2 668.0,213.7 668.1,198.0 668.1,226.8 668.2,213.3 668.2,221.6 668.3,203.9 668.3,198.4 668.4,201.2 668.4,199.4 668.5,209.4 668.5,205.8 668.6,224.4 668.6,208.9 668.7,214.2 668.7,229.9 668.8,222.8 668.8,207.2 668.8,199.6 668.9,231.3 668.9,206.4 669.0,209.9 669.1,209.2 669.1,203.9 669.2,209.2 669.2,204.7 669.3,204.7 669.4,198.8 669.5,195.2 669.5,223.3 669.6,226.5 669.6,200.6 669.7,195.6 669.7,202.0 669.7,229.0 669.8,205.5 669.8,187.8 669.9,217.9 669.9,205.1 669.9,214.6 670.0,211.7 670.0,194.9 670.1,220.3 670.1,215.4 670.1,200.3 670.2,186.5 670.2,196.3 670.4,202.3 670.4,202.3 670.5,211.4 670.5,210.4 670.6,219.2 670.6,195.4 670.6,210.9 670.7,203.8 670.8,226.6 670.8,202.7 670.8,219.5 670.9,191.0 670.9,197.0 671.0,203.9 671.0,209.9 671.0,196.6 671.1,206.6 671.1,192.3 671.2,194.5 671.2,189.6 671.3,196.9 671.3,202.8 671.4,198.5 671.4,205.4 671.5,203.3 671.5,208.6 671.5,208.4 671.6,228.4 671.6,197.9 671.7,205.5 671.7,198.2 671.8,217.7 671.8,231.4 671.8,196.4 671.9,204.8 671.9,205.3 672.0,183.3 672.0,206.7 672.1,204.9 672.1,215.1 672.2,204.5 672.3,200.3 672.3,196.1 672.3,207.4 672.4,214.0 672.4,215.5 672.4,207.3 672.5,199.6 672.5,206.5 672.6,203.9 672.6,210.5 672.7,204.6 672.7,196.4 672.7,203.5 672.8,214.3 672.8,226.9 672.8,190.1 672.9,203.0 672.9,213.6 673.0,211.3 673.0,197.2 673.1,201.8 673.1,205.9 673.1,199.2 673.2,196.8 673.2,194.8 673.3,206.5 673.3,204.1 673.4,215.7 673.4,205.0 673.5,209.3 673.5,202.8 673.6,219.1 673.6,214.9 673.7,196.8 673.7,227.4 673.7,203.0 673.8,192.4 673.8,216.4 673.9,211.0 673.9,198.0 673.9,223.4 674.0,213.9 674.0,211.6 674.1,212.0 674.2,202.4 674.2,211.1 674.2,222.8 674.3,218.0 674.3,200.1 674.3,206.0 674.4,203.7 674.4,194.2 674.5,220.7 674.5,211.2 674.6,222.8 674.6,213.5 674.7,214.8 674.7,191.6 674.7,224.8 674.8,230.3 674.8,194.8 674.9,198.3 674.9,203.0 675.0,204.6 675.0,192.7 675.0,195.5 675.1,199.5 675.1,219.0 675.2,229.7 675.2,193.6 675.3,222.0 675.3,194.7 675.4,212.1 675.4,187.6 675.5,212.0 675.5,222.1 675.6,202.5 675.6,201.2 675.6,217.6 675.7,214.9 675.7,224.4 675.8,208.4 675.8,229.4 675.9,206.8 675.9,199.1 676.0,206.3 676.0,222.6 676.0,193.3 676.1,195.0 676.1,188.2 676.2,213.2 676.2,199.2 676.2,211.6 676.3,207.2 676.3,196.1 676.4,202.9 676.5,232.6 676.5,213.2 676.5,196.1 676.6,213.0 676.6,205.4 676.6,198.2 676.7,212.4 676.7,208.6 676.7,196.1 676.8,202.6 676.8,222.8 676.8,220.7 676.9,205.6 676.9,203.6 676.9,210.5 677.0,205.7 677.0,195.8 677.0,215.5 677.1,199.4 677.1,227.1 677.1,214.9 677.2,216.8 677.2,209.0 677.3,201.5 677.3,203.2 677.3,197.5 677.4,196.7 677.4,230.6 677.5,217.3 677.5,198.7"/>
<polyline clip-path="url(#cp2)" fill="none" stroke="none" marker-start="url(#dblk)" marker-mid="url(#dblk)" marker-end="url(#dblk)" points="628.4,161.8 628.6,151.6 629.2,152.6 629.7,158.1 631.3,152.5 632.2,157.9 632.5,182.4 632.6,155.7 632.8,174.4 632.9,159.4 633.2,166.9 634.5,170.2 635.1,171.1 636.2,162.3 636.5,169.0 637.4,191.3 638.1,158.5 640.8,170.5 641.0,171.8 641.1,166.2 641.4,182.7 641.8,173.2 642.1,201.3 642.5,163.3 643.3,176.3 643.8,176.0 644.3,172.3 644.4,177.9 644.8,182.0 645.2,168.5 645.6,197.1 647.4,176.3 648.4,212.8 649.8,176.4 650.0,193.0 652.5,182.8 658.6,200.5 660.0,191.9 664.9,208.6 664.9,191.3 667.6,219.9 667.7,213.2 669.8,214.5 670.2,195.0 675.2,197.0"/>
<path d="M68.0 0V231.5 M67.35 231.5H248.3" stroke="#555" stroke-width="1.5" fill="none"/>
<path d="M63.0 15.00H68.0M63.0 100.70H68.0M65.0 74.90H68.0M65.0 59.81H68.0M65.0 49.10H68.0M65.0 40.80H68.0M65.0 34.01H68.0M65.0 28.28H68.0M65.0 23.31H68.0M65.0 18.92H68.0M63.0 186.40H68.0M65.0 160.60H68.0M65.0 145.51H68.0M65.0 134.80H68.0M65.0 126.50H68.0M65.0 119.71H68.0M65.0 113.98H68.0M65.0 109.01H68.0M65.0 104.62H68.0M65.0 231.21H68.0M65.0 220.50H68.0M65.0 212.20H68.0M65.0 205.41H68.0M65.0 199.68H68.0M65.0 194.71H68.0M65.0 190.32H68.0M68.00 231.5V236.0M98.55 231.5V234.0M116.43 231.5V234.0M129.11 231.5V234.0M138.95 231.5V234.0M146.98 231.5V234.0M153.78 231.5V234.0M159.66 231.5V234.0M164.86 231.5V234.0M169.50 231.5V236.0M200.05 231.5V234.0M217.93 231.5V234.0M230.61 231.5V234.0M240.45 231.5V234.0M248.48 231.5V234.0" stroke="#555" stroke-width="1" fill="none"/>
<path d="M275.7 0V231.5 M275.05 231.5H457.5" stroke="#555" stroke-width="1.5" fill="none"/>
<path d="M270.7 15.00H275.7M270.7 100.70H275.7M272.7 74.90H275.7M272.7 59.81H275.7M272.7 49.10H275.7M272.7 40.80H275.7M272.7 34.01H275.7M272.7 28.28H275.7M272.7 23.31H275.7M272.7 18.92H275.7M270.7 186.40H275.7M272.7 160.60H275.7M272.7 145.51H275.7M272.7 134.80H275.7M272.7 126.50H275.7M272.7 119.71H275.7M272.7 113.98H275.7M272.7 109.01H275.7M272.7 104.62H275.7M272.7 231.21H275.7M272.7 220.50H275.7M272.7 212.20H275.7M272.7 205.41H275.7M272.7 199.68H275.7M272.7 194.71H275.7M272.7 190.32H275.7M275.70 231.5V236.0M306.50 231.5V234.0M324.51 231.5V234.0M337.29 231.5V234.0M347.20 231.5V234.0M355.30 231.5V234.0M362.15 231.5V234.0M368.09 231.5V234.0M373.32 231.5V234.0M378.00 231.5V236.0M408.80 231.5V234.0M426.81 231.5V234.0M439.59 231.5V234.0M449.50 231.5V234.0M457.60 231.5V234.0" stroke="#555" stroke-width="1" fill="none"/>
<path d="M491.8 0V231.5 M491.15000000000003 231.5H675.5" stroke="#555" stroke-width="1.5" fill="none"/>
<path d="M486.8 15.00H491.8M486.8 100.70H491.8M488.8 74.90H491.8M488.8 59.81H491.8M488.8 49.10H491.8M488.8 40.80H491.8M488.8 34.01H491.8M488.8 28.28H491.8M488.8 23.31H491.8M488.8 18.92H491.8M486.8 186.40H491.8M488.8 160.60H491.8M488.8 145.51H491.8M488.8 134.80H491.8M488.8 126.50H491.8M488.8 119.71H491.8M488.8 113.98H491.8M488.8 109.01H491.8M488.8 104.62H491.8M488.8 231.21H491.8M488.8 220.50H491.8M488.8 212.20H491.8M488.8 205.41H491.8M488.8 199.68H491.8M488.8 194.71H491.8M488.8 190.32H491.8M491.80 231.5V236.0M522.75 231.5V234.0M540.85 231.5V234.0M553.69 231.5V234.0M563.65 231.5V234.0M571.79 231.5V234.0M578.68 231.5V234.0M584.64 231.5V234.0M589.90 231.5V234.0M594.60 231.5V236.0M625.55 231.5V234.0M643.65 231.5V234.0M656.49 231.5V234.0M666.45 231.5V234.0M674.59 231.5V234.0" stroke="#555" stroke-width="1" fill="none"/>
<text x="60" y="19.5" text-anchor="end" font-size="14.5">0.01</text>
<text x="60" y="105.2" text-anchor="end" font-size="14.5">1E-3</text>
<text x="60" y="190.9" text-anchor="end" font-size="14.5">1E-4</text>
<text x="67.7" y="249.4" text-anchor="middle" font-size="14.5">0.1</text>
<text x="169.5" y="249.4" text-anchor="middle" font-size="14.5">1</text>
<text x="275.4" y="249.4" text-anchor="middle" font-size="14.5">0.1</text>
<text x="378.0" y="249.4" text-anchor="middle" font-size="14.5">1</text>
<text x="491.5" y="249.4" text-anchor="middle" font-size="14.5">0.1</text>
<text x="594.6" y="249.4" text-anchor="middle" font-size="14.5">1</text>
<text font-size="15"><tspan x="177.1" y="252.5">q</tspan><tspan x="189.4" y="252.5">(</tspan><tspan x="196.1" y="252.5">n</tspan><tspan x="205.3" y="252.5">m</tspan><tspan x="219.2" y="248.6" font-size="10.5">-</tspan><tspan x="224.6" y="248.6" font-size="10.5">1</tspan><tspan x="230.9" y="252.5">)</tspan></text>
<text font-size="15"><tspan x="393.5" y="252.5">q</tspan><tspan x="405.8" y="252.5">(</tspan><tspan x="412.5" y="252.5">n</tspan><tspan x="421.7" y="252.5">m</tspan><tspan x="435.6" y="248.6" font-size="10.5">-</tspan><tspan x="441.0" y="248.6" font-size="10.5">1</tspan><tspan x="447.3" y="252.5">)</tspan></text>
<text font-size="15"><tspan x="617.7" y="252.5">q</tspan><tspan x="630.0" y="252.5">(</tspan><tspan x="636.7" y="252.5">n</tspan><tspan x="645.9" y="252.5">m</tspan><tspan x="659.8" y="248.6" font-size="10.5">-</tspan><tspan x="665.2" y="248.6" font-size="10.5">1</tspan><tspan x="671.5" y="252.5">)</tspan></text>
<text transform="translate(14.6,158.8) rotate(-90)" font-size="15"><tspan x="0" y="0">Intensity</tspan><tspan x="55.4" y="0">(</tspan><tspan x="58.9" y="0">m</tspan><tspan x="70.7" y="0">m</tspan><tspan x="82.9" y="-7.9" font-size="10.5">-</tspan><tspan x="86.0" y="-7.9" font-size="10.5">1</tspan><tspan x="93.1" y="0">)</tspan></text>
<text x="112.5" y="23.1" font-size="13.7">--- TWEEN20</text>
<text x="112.5" y="39.6" font-size="13.7" fill="#f00">--- TWEEN20+pHLIP</text>
<text x="345.4" y="23.1" font-size="13.7">--- DMPC</text>
<text x="345.4" y="39.6" font-size="13.7" fill="#ff6a2e">--- DMPC+pHLIP</text>
<text x="569.4" y="23.1" font-size="13.7">--- SPAN20</text>
<text x="569.4" y="39.6" font-size="13.7" fill="#0c9a0c">--- SPAN20+pHLIP</text>
</svg>
</body></html>
